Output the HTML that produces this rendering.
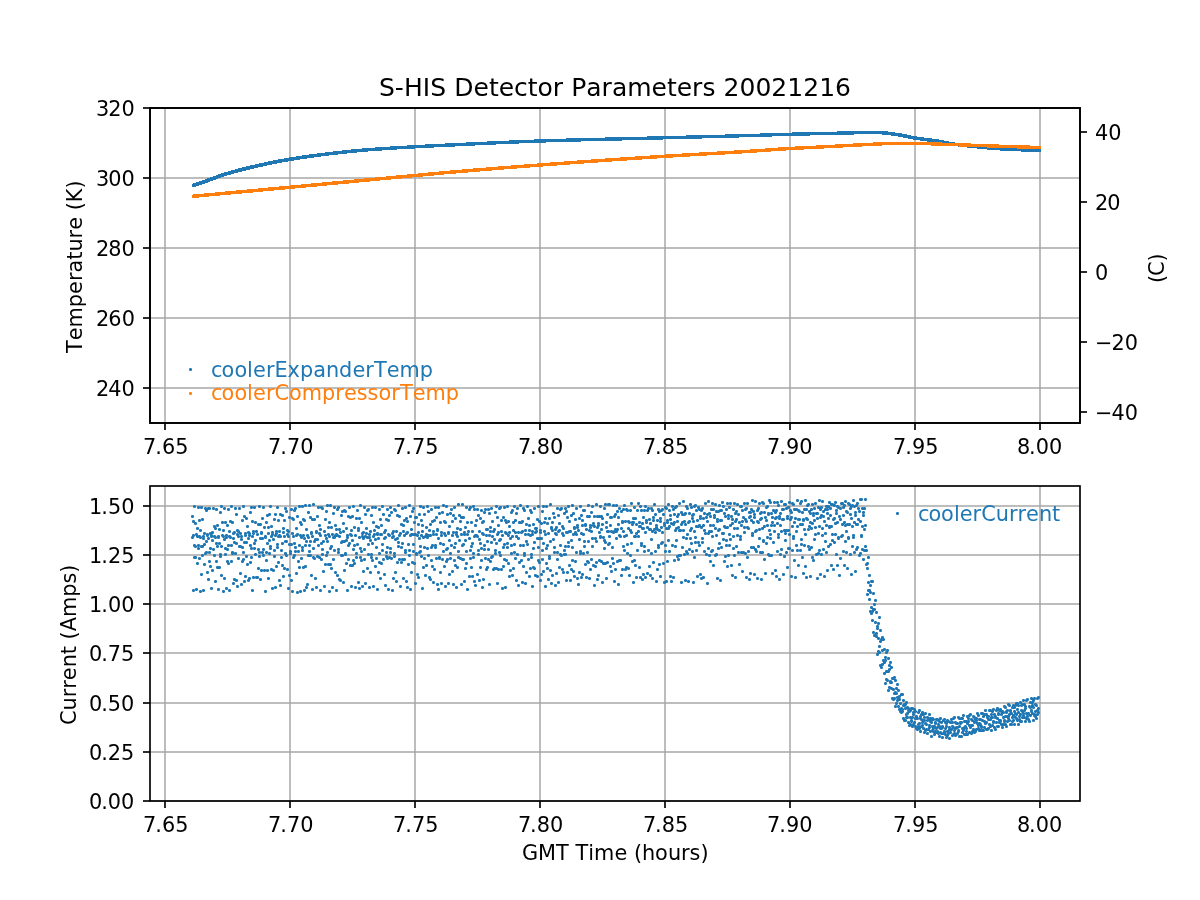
<!DOCTYPE html>
<html><head><meta charset="utf-8"><title>S-HIS Detector Parameters 20021216</title>
<style>html,body{margin:0;padding:0;background:#fff}svg{display:block}</style></head>
<body>
<svg xmlns="http://www.w3.org/2000/svg" width="1200" height="900" viewBox="0 0 1200 900" font-family='"DejaVu Sans", "Liberation Sans", sans-serif' font-size="20.833px">
<rect width="1200" height="900" fill="#ffffff"/>
<g stroke="#b0b0b0" stroke-width="1.667" fill="none">
<line x1="165" y1="108" x2="165" y2="423"/>
<line x1="290" y1="108" x2="290" y2="423"/>
<line x1="415" y1="108" x2="415" y2="423"/>
<line x1="540" y1="108" x2="540" y2="423"/>
<line x1="665" y1="108" x2="665" y2="423"/>
<line x1="790" y1="108" x2="790" y2="423"/>
<line x1="915" y1="108" x2="915" y2="423"/>
<line x1="1040" y1="108" x2="1040" y2="423"/>
</g>
<g stroke="#a7a7a7" stroke-width="1.667" fill="none">
<line x1="150" y1="388" x2="1080" y2="388"/>
<line x1="150" y1="318" x2="1080" y2="318"/>
<line x1="150" y1="248" x2="1080" y2="248"/>
<line x1="150" y1="178" x2="1080" y2="178"/>
<line x1="150" y1="108" x2="1080" y2="108"/>
</g>
<path d="M192 185.5H195M193 184.5H198M196 183.5H201M199 182.5H204M202 181.5H207M205 180.5H209M207 179.5H212M210 178.5H215M213 177.5H218M216 176.5H220M218 175.5H223M221 174.5H226M224 173.5H230M228 172.5H233M231 171.5H237M235 170.5H240M238 169.5H244M242 168.5H248M246 167.5H252M250 166.5H257M255 165.5H261M259 164.5H266M264 163.5H270M268 162.5H275M273 161.5H280M278 160.5H286M284 159.5H291M289 158.5H298M296 157.5H304M302 156.5H311M309 155.5H319M317 154.5H327M325 153.5H335M333 152.5H344M342 151.5H353M351 150.5H364M362 149.5H377M375 148.5H392M390 147.5H409M407 146.5H427M425 145.5H447M445 144.5H468M466 143.5H489M487 142.5H511M509 141.5H536M534 140.5H568M566 139.5H607M605 138.5H649M647 137.5H688M686 136.5H727M725 135.5H762M760 134.5H794M792 133.5H839M837 132.5H888M886 133.5H895M893 134.5H902M900 135.5H907M905 136.5H911M909 137.5H917M915 138.5H924M922 139.5H932M930 140.5H939M937 141.5H944M942 142.5H949M947 143.5H955M953 144.5H963M961 145.5H973M971 146.5H983M981 147.5H993M991 148.5H1008M1006 149.5H1029M1027 150.5H1041M192 185.5H196M194 184.5H199M197 183.5H202M200 182.5H205M203 181.5H208M206 180.5H210M208 179.5H213M211 178.5H216M214 177.5H218M216 176.5H221M219 175.5H224M222 174.5H227M225 173.5H231M229 172.5H234M232 171.5H238M236 170.5H242M240 169.5H246M244 168.5H250M248 167.5H254M252 166.5H258M256 165.5H263M261 164.5H267M265 163.5H272M270 162.5H277M275 161.5H282M280 160.5H288M286 159.5H294M292 158.5H300M298 157.5H307M305 156.5H314M312 155.5H321M319 154.5H329M327 153.5H338M336 152.5H347M345 151.5H357M355 150.5H368M366 149.5H382M380 148.5H397M395 147.5H415M413 146.5H434M432 145.5H455M453 144.5H475M473 143.5H496M494 142.5H519M517 141.5H546M544 140.5H581M579 139.5H622M620 138.5H663M661 137.5H702M700 136.5H739M737 135.5H772M770 134.5H810M808 133.5H854M852 132.5H884M882 133.5H893M891 134.5H900M898 135.5H905M903 136.5H910M908 137.5H915M913 138.5H922M920 139.5H929M927 140.5H937M935 141.5H942M940 142.5H948M946 143.5H953M951 144.5H960M958 145.5H969M967 146.5H979M977 147.5H989M987 148.5H1002M1000 149.5H1023M1021 150.5H1041" fill="none" stroke="#1f77b4" stroke-width="3"/>
<path d="M192 196.5H195M193 195.5H206M204 194.5H217M215 193.5H227M225 192.5H238M236 191.5H249M247 190.5H260M258 189.5H270M268 188.5H281M279 187.5H292M290 186.5H303M301 185.5H313M311 184.5H324M322 183.5H334M332 182.5H345M343 181.5H356M354 180.5H366M364 179.5H377M375 178.5H388M386 177.5H398M396 176.5H409M407 175.5H420M418 174.5H430M428 173.5H441M439 172.5H452M450 171.5H464M462 170.5H475M473 169.5H488M486 168.5H500M498 167.5H513M511 166.5H526M524 165.5H539M537 164.5H552M550 163.5H566M564 162.5H579M577 161.5H593M591 160.5H607M605 159.5H622M620 158.5H637M635 157.5H652M650 156.5H667M665 155.5H684M682 154.5H701M699 153.5H719M717 152.5H736M734 151.5H752M750 150.5H767M765 149.5H780M778 148.5H797M795 147.5H818M816 146.5H837M835 145.5H855M853 144.5H875M873 143.5H942M940 144.5H971M969 145.5H999M997 146.5H1030M1028 147.5H1041M192 196.5H199M197 195.5H209M207 194.5H220M218 193.5H231M229 192.5H242M240 191.5H253M251 190.5H263M261 189.5H274M272 188.5H285M283 187.5H295M293 186.5H306M304 185.5H317M315 184.5H327M325 183.5H338M336 182.5H349M347 181.5H359M357 180.5H370M368 179.5H380M378 178.5H391M389 177.5H402M400 176.5H412M410 175.5H423M421 174.5H434M432 173.5H444M442 172.5H456M454 171.5H468M466 170.5H480M478 169.5H492M490 168.5H504M502 167.5H517M515 166.5H530M528 165.5H543M541 164.5H557M555 163.5H570M568 162.5H584M582 161.5H598M596 160.5H612M610 159.5H627M625 158.5H642M640 157.5H657M655 156.5H673M671 155.5H690M688 154.5H707M705 153.5H725M723 152.5H742M740 151.5H757M755 150.5H771M769 149.5H786M784 148.5H804M802 147.5H824M822 146.5H843M841 145.5H862M860 144.5H882M880 143.5H933M931 144.5H961M959 145.5H989M987 146.5H1019M1017 147.5H1041" fill="none" stroke="#ff7f0e" stroke-width="3"/>
<rect x="150" y="108" width="930" height="315" fill="none" stroke="#000" stroke-width="1.667" stroke-linejoin="miter"/>
<rect x="150" y="108" width="930" height="315" fill="none" stroke="#000" stroke-width="1.667" stroke-linejoin="miter"/>
<g stroke="#000" stroke-width="1.667">
<line x1="165" y1="423" x2="165" y2="430"/>
<line x1="290" y1="423" x2="290" y2="430"/>
<line x1="415" y1="423" x2="415" y2="430"/>
<line x1="540" y1="423" x2="540" y2="430"/>
<line x1="665" y1="423" x2="665" y2="430"/>
<line x1="790" y1="423" x2="790" y2="430"/>
<line x1="915" y1="423" x2="915" y2="430"/>
<line x1="1040" y1="423" x2="1040" y2="430"/>
</g>
<text x="143.00 155.25 161.88 175.25" y="454" fill="#000">7.65</text>
<text x="268.06 280.31 286.94 300.19" y="454" fill="#000">7.70</text>
<text x="393.06 405.31 411.94 425.19" y="454" fill="#000">7.75</text>
<text x="517.88 530.12 536.75 549.88" y="454" fill="#000">7.80</text>
<text x="642.88 655.12 661.75 674.88" y="454" fill="#000">7.85</text>
<text x="767.00 779.25 785.88 799.25" y="454" fill="#000">7.90</text>
<text x="893.00 905.25 911.88 925.25" y="454" fill="#000">7.95</text>
<text x="1017.00 1029.12 1035.75 1049.00" y="454" fill="#000">8.00</text>
<g stroke="#000" stroke-width="1.667">
<line x1="143" y1="388" x2="150" y2="388"/>
<line x1="143" y1="318" x2="150" y2="318"/>
<line x1="143" y1="248" x2="150" y2="248"/>
<line x1="143" y1="178" x2="150" y2="178"/>
<line x1="143" y1="108" x2="150" y2="108"/>
</g>
<text x="95.92 108.17 121.42" y="396" fill="#000">240</text>
<text x="96.04 108.29 121.67" y="326" fill="#000">260</text>
<text x="96.04 108.29 121.42" y="256" fill="#000">280</text>
<text x="96.04 108.29 121.54" y="186" fill="#000">300</text>
<text x="96.04 108.29 121.54" y="116" fill="#000">320</text>
<g stroke="#000" stroke-width="1.667">
<line x1="1080" y1="412" x2="1087" y2="412"/>
<line x1="1080" y1="342" x2="1087" y2="342"/>
<line x1="1080" y1="272" x2="1087" y2="272"/>
<line x1="1080" y1="202" x2="1087" y2="202"/>
<line x1="1080" y1="132" x2="1087" y2="132"/>
</g>
<text x="1095.02 1111.52 1124.77" y="420" fill="#000">−40</text>
<text x="1095.02 1111.52 1124.77" y="350" fill="#000">−20</text>
<text x="1094.96" y="280" fill="#000">0</text>
<text x="1095.08 1107.33" y="210" fill="#000">20</text>
<text x="1095.08 1108.33" y="140" fill="#000">40</text>
<text x="378.95 394.82 403.95 422.82 430.32 446.20 454.20 473.57 488.95 498.70 514.07 527.82 537.57 552.82 563.20 571.20 586.30 601.55 611.93 627.18 651.55 666.93 676.68 692.05 702.43 715.55 723.55 739.55 755.43 771.30 787.30 803.18 819.18 835.05" y="96" fill="#000" font-size="25.000px">S-HIS Detector Parameters 20021216</text>
<text transform="translate(81.70 266.75) rotate(-90)" x="-86.35 -73.52 -60.65 -40.40 -27.15 -14.27 -5.65 7.10 15.23 28.35 36.98 49.85 56.48 64.60 78.23" y="0" fill="#000">Temperature (K)</text>
<text transform="translate(1163.70 268.50) rotate(-90)" x="-14.62 -7.50 7.00" y="0" fill="#000">(C)</text>
<path d="M190.3 369.3h.4v.4h-.4z" fill="#1f77b4" stroke="#1f77b4" stroke-width="2.6" stroke-linejoin="round"/>
<path d="M190.3 393.3h.4v.4h-.4z" fill="#ff7f0e" stroke="#ff7f0e" stroke-width="2.6" stroke-linejoin="round"/>
<text x="211.12 221.62 234.38 247.12 253.00 265.88 274.50 287.62 300.00 313.25 326.00 339.12 352.38 365.25 373.88 386.70 399.58 419.83" y="377" fill="#1f77b4">coolerExpanderTemp</text>
<text x="211.12 221.62 234.38 247.12 253.00 265.88 274.50 289.00 301.75 322.00 335.25 343.88 356.75 367.62 378.50 391.25 399.88 412.70 425.58 445.83" y="400" fill="#ff7f0e">coolerCompressorTemp</text>
<g stroke="#b0b0b0" stroke-width="1.667" fill="none">
<line x1="165" y1="486" x2="165" y2="801"/>
<line x1="290" y1="486" x2="290" y2="801"/>
<line x1="415" y1="486" x2="415" y2="801"/>
<line x1="540" y1="486" x2="540" y2="801"/>
<line x1="665" y1="486" x2="665" y2="801"/>
<line x1="790" y1="486" x2="790" y2="801"/>
<line x1="915" y1="486" x2="915" y2="801"/>
<line x1="1040" y1="486" x2="1040" y2="801"/>
</g>
<g stroke="#a7a7a7" stroke-width="1.667" fill="none">
<line x1="150" y1="801" x2="1080" y2="801"/>
<line x1="150" y1="752" x2="1080" y2="752"/>
<line x1="150" y1="703" x2="1080" y2="703"/>
<line x1="150" y1="653" x2="1080" y2="653"/>
<line x1="150" y1="604" x2="1080" y2="604"/>
<line x1="150" y1="555" x2="1080" y2="555"/>
<line x1="150" y1="506" x2="1080" y2="506"/>
</g>
<path d="M192.3 516.3h.4v.4h-.4zM192.3 537.3h.4v.4h-.4zM193.3 590.3h.4v.4h-.4zM193.3 535.3h.4v.4h-.4zM193.3 521.3h.4v.4h-.4zM194.3 557.3h.4v.4h-.4zM194.3 545.3h.4v.4h-.4zM194.3 506.3h.4v.4h-.4zM195.3 546.3h.4v.4h-.4zM195.3 557.3h.4v.4h-.4zM195.3 523.3h.4v.4h-.4zM196.3 534.3h.4v.4h-.4zM196.3 589.3h.4v.4h-.4zM197.3 536.3h.4v.4h-.4zM197.3 528.3h.4v.4h-.4zM197.3 563.3h.4v.4h-.4zM198.3 545.3h.4v.4h-.4zM198.3 507.3h.4v.4h-.4zM198.3 548.3h.4v.4h-.4zM199.3 558.3h.4v.4h-.4zM199.3 520.3h.4v.4h-.4zM199.3 536.3h.4v.4h-.4zM200.3 591.3h.4v.4h-.4zM200.3 537.3h.4v.4h-.4zM200.3 530.3h.4v.4h-.4zM201.3 574.3h.4v.4h-.4zM201.3 546.3h.4v.4h-.4zM201.3 507.3h.4v.4h-.4zM202.3 546.3h.4v.4h-.4zM202.3 555.3h.4v.4h-.4zM202.3 519.3h.4v.4h-.4zM203.3 538.3h.4v.4h-.4zM203.3 590.3h.4v.4h-.4zM203.3 536.3h.4v.4h-.4zM204.3 533.3h.4v.4h-.4zM204.3 564.3h.4v.4h-.4zM204.3 544.3h.4v.4h-.4zM205.3 508.3h.4v.4h-.4zM205.3 553.3h.4v.4h-.4zM206.3 552.3h.4v.4h-.4zM206.3 510.3h.4v.4h-.4zM206.3 541.3h.4v.4h-.4zM207.3 572.3h.4v.4h-.4zM207.3 535.3h.4v.4h-.4zM207.3 534.3h.4v.4h-.4zM208.3 579.3h.4v.4h-.4zM208.3 538.3h.4v.4h-.4zM208.3 508.3h.4v.4h-.4zM209.3 561.3h.4v.4h-.4zM209.3 552.3h.4v.4h-.4zM209.3 508.3h.4v.4h-.4zM210.3 548.3h.4v.4h-.4zM210.3 566.3h.4v.4h-.4zM210.3 533.3h.4v.4h-.4zM211.3 535.3h.4v.4h-.4zM211.3 588.3h.4v.4h-.4zM211.3 536.3h.4v.4h-.4zM212.3 532.3h.4v.4h-.4zM212.3 570.3h.4v.4h-.4zM212.3 540.3h.4v.4h-.4zM213.3 508.3h.4v.4h-.4zM213.3 549.3h.4v.4h-.4zM214.3 555.3h.4v.4h-.4zM214.3 526.3h.4v.4h-.4zM214.3 536.3h.4v.4h-.4zM215.3 581.3h.4v.4h-.4zM215.3 537.3h.4v.4h-.4zM215.3 528.3h.4v.4h-.4zM216.3 561.3h.4v.4h-.4zM216.3 543.3h.4v.4h-.4zM216.3 509.3h.4v.4h-.4zM217.3 546.3h.4v.4h-.4zM217.3 567.3h.4v.4h-.4zM217.3 525.3h.4v.4h-.4zM218.3 537.3h.4v.4h-.4zM218.3 589.3h.4v.4h-.4zM218.3 536.3h.4v.4h-.4zM219.3 529.3h.4v.4h-.4zM219.3 567.3h.4v.4h-.4zM219.3 543.3h.4v.4h-.4zM220.3 512.3h.4v.4h-.4zM220.3 556.3h.4v.4h-.4zM220.3 554.3h.4v.4h-.4zM221.3 506.3h.4v.4h-.4zM221.3 546.3h.4v.4h-.4zM221.3 575.3h.4v.4h-.4zM222.3 522.3h.4v.4h-.4zM222.3 535.3h.4v.4h-.4zM223.3 591.3h.4v.4h-.4zM223.3 536.3h.4v.4h-.4zM223.3 530.3h.4v.4h-.4zM224.3 578.3h.4v.4h-.4zM224.3 539.3h.4v.4h-.4zM224.3 508.3h.4v.4h-.4zM225.3 548.3h.4v.4h-.4zM225.3 554.3h.4v.4h-.4zM225.3 522.3h.4v.4h-.4zM226.3 535.3h.4v.4h-.4zM226.3 588.3h.4v.4h-.4zM226.3 537.3h.4v.4h-.4zM227.3 525.3h.4v.4h-.4zM227.3 561.3h.4v.4h-.4zM227.3 549.3h.4v.4h-.4zM228.3 509.3h.4v.4h-.4zM228.3 545.3h.4v.4h-.4zM228.3 563.3h.4v.4h-.4zM229.3 531.3h.4v.4h-.4zM229.3 536.3h.4v.4h-.4zM229.3 590.3h.4v.4h-.4zM230.3 537.3h.4v.4h-.4zM230.3 521.3h.4v.4h-.4zM231.3 561.3h.4v.4h-.4zM231.3 545.3h.4v.4h-.4zM231.3 506.3h.4v.4h-.4zM232.3 552.3h.4v.4h-.4zM232.3 553.3h.4v.4h-.4zM232.3 522.3h.4v.4h-.4zM233.3 538.3h.4v.4h-.4zM233.3 583.3h.4v.4h-.4zM233.3 533.3h.4v.4h-.4zM234.3 532.3h.4v.4h-.4zM234.3 579.3h.4v.4h-.4zM234.3 542.3h.4v.4h-.4zM235.3 508.3h.4v.4h-.4zM235.3 553.3h.4v.4h-.4zM236.3 514.3h.4v.4h-.4zM236.3 543.3h.4v.4h-.4zM236.3 580.3h.4v.4h-.4zM237.3 530.3h.4v.4h-.4zM237.3 534.3h.4v.4h-.4zM237.3 586.3h.4v.4h-.4zM238.3 536.3h.4v.4h-.4zM238.3 531.3h.4v.4h-.4zM238.3 558.3h.4v.4h-.4zM239.3 546.3h.4v.4h-.4zM239.3 508.3h.4v.4h-.4zM240.3 546.3h.4v.4h-.4zM240.3 573.3h.4v.4h-.4zM240.3 533.3h.4v.4h-.4zM241.3 536.3h.4v.4h-.4zM241.3 584.3h.4v.4h-.4zM241.3 539.3h.4v.4h-.4zM242.3 520.3h.4v.4h-.4zM242.3 561.3h.4v.4h-.4zM242.3 547.3h.4v.4h-.4zM243.3 506.3h.4v.4h-.4zM243.3 552.3h.4v.4h-.4zM243.3 559.3h.4v.4h-.4zM244.3 516.3h.4v.4h-.4zM244.3 542.3h.4v.4h-.4zM244.3 581.3h.4v.4h-.4zM245.3 533.3h.4v.4h-.4zM245.3 535.3h.4v.4h-.4zM245.3 576.3h.4v.4h-.4zM246.3 542.3h.4v.4h-.4zM246.3 518.3h.4v.4h-.4zM246.3 556.3h.4v.4h-.4zM247.3 564.3h.4v.4h-.4zM247.3 526.3h.4v.4h-.4zM248.3 538.3h.4v.4h-.4zM248.3 580.3h.4v.4h-.4zM248.3 532.3h.4v.4h-.4zM249.3 533.3h.4v.4h-.4zM249.3 578.3h.4v.4h-.4zM249.3 535.3h.4v.4h-.4zM250.3 512.3h.4v.4h-.4zM250.3 562.3h.4v.4h-.4zM250.3 545.3h.4v.4h-.4zM251.3 507.3h.4v.4h-.4zM251.3 548.3h.4v.4h-.4zM251.3 557.3h.4v.4h-.4zM252.3 521.3h.4v.4h-.4zM252.3 536.3h.4v.4h-.4zM252.3 590.3h.4v.4h-.4zM253.3 533.3h.4v.4h-.4zM253.3 531.3h.4v.4h-.4zM253.3 577.3h.4v.4h-.4zM254.3 543.3h.4v.4h-.4zM254.3 507.3h.4v.4h-.4zM254.3 548.3h.4v.4h-.4zM255.3 554.3h.4v.4h-.4zM255.3 522.3h.4v.4h-.4zM255.3 540.3h.4v.4h-.4zM256.3 577.3h.4v.4h-.4zM256.3 531.3h.4v.4h-.4zM257.3 534.3h.4v.4h-.4zM257.3 577.3h.4v.4h-.4zM258.3 524.3h.4v.4h-.4zM258.3 568.3h.4v.4h-.4zM258.3 549.3h.4v.4h-.4zM259.3 506.3h.4v.4h-.4zM259.3 552.3h.4v.4h-.4zM259.3 556.3h.4v.4h-.4zM260.3 524.3h.4v.4h-.4zM260.3 538.3h.4v.4h-.4zM260.3 579.3h.4v.4h-.4zM261.3 533.3h.4v.4h-.4zM261.3 532.3h.4v.4h-.4zM261.3 570.3h.4v.4h-.4zM262.3 538.3h.4v.4h-.4zM262.3 518.3h.4v.4h-.4zM262.3 552.3h.4v.4h-.4zM263.3 555.3h.4v.4h-.4zM263.3 507.3h.4v.4h-.4zM263.3 549.3h.4v.4h-.4zM264.3 570.3h.4v.4h-.4zM264.3 527.3h.4v.4h-.4zM265.3 537.3h.4v.4h-.4zM265.3 591.3h.4v.4h-.4zM265.3 536.3h.4v.4h-.4zM266.3 522.3h.4v.4h-.4zM266.3 560.3h.4v.4h-.4zM266.3 552.3h.4v.4h-.4zM267.3 515.3h.4v.4h-.4zM267.3 543.3h.4v.4h-.4zM267.3 570.3h.4v.4h-.4zM268.3 527.3h.4v.4h-.4zM268.3 533.3h.4v.4h-.4zM268.3 578.3h.4v.4h-.4zM269.3 540.3h.4v.4h-.4zM269.3 514.3h.4v.4h-.4zM269.3 553.3h.4v.4h-.4zM270.3 548.3h.4v.4h-.4zM270.3 506.3h.4v.4h-.4zM270.3 546.3h.4v.4h-.4zM271.3 569.3h.4v.4h-.4zM271.3 526.3h.4v.4h-.4zM271.3 536.3h.4v.4h-.4zM272.3 588.3h.4v.4h-.4zM272.3 534.3h.4v.4h-.4zM272.3 532.3h.4v.4h-.4zM273.3 570.3h.4v.4h-.4zM273.3 539.3h.4v.4h-.4zM274.3 519.3h.4v.4h-.4zM274.3 550.3h.4v.4h-.4zM274.3 556.3h.4v.4h-.4zM275.3 514.3h.4v.4h-.4zM275.3 535.3h.4v.4h-.4zM275.3 587.3h.4v.4h-.4zM276.3 533.3h.4v.4h-.4zM276.3 531.3h.4v.4h-.4zM276.3 566.3h.4v.4h-.4zM277.3 544.3h.4v.4h-.4zM277.3 507.3h.4v.4h-.4zM277.3 547.3h.4v.4h-.4zM278.3 562.3h.4v.4h-.4zM278.3 520.3h.4v.4h-.4zM278.3 536.3h.4v.4h-.4zM279.3 580.3h.4v.4h-.4zM279.3 535.3h.4v.4h-.4zM279.3 531.3h.4v.4h-.4zM280.3 585.3h.4v.4h-.4zM280.3 536.3h.4v.4h-.4zM280.3 514.3h.4v.4h-.4zM281.3 557.3h.4v.4h-.4zM281.3 550.3h.4v.4h-.4zM282.3 515.3h.4v.4h-.4zM282.3 543.3h.4v.4h-.4zM282.3 565.3h.4v.4h-.4zM283.3 528.3h.4v.4h-.4zM283.3 532.3h.4v.4h-.4zM283.3 576.3h.4v.4h-.4zM284.3 536.3h.4v.4h-.4zM284.3 520.3h.4v.4h-.4zM284.3 568.3h.4v.4h-.4zM285.3 541.3h.4v.4h-.4zM285.3 508.3h.4v.4h-.4zM285.3 553.3h.4v.4h-.4zM286.3 555.3h.4v.4h-.4zM286.3 511.3h.4v.4h-.4zM286.3 541.3h.4v.4h-.4zM287.3 569.3h.4v.4h-.4zM287.3 530.3h.4v.4h-.4zM287.3 534.3h.4v.4h-.4zM288.3 588.3h.4v.4h-.4zM288.3 536.3h.4v.4h-.4zM288.3 531.3h.4v.4h-.4zM289.3 575.3h.4v.4h-.4zM289.3 544.3h.4v.4h-.4zM289.3 517.3h.4v.4h-.4zM290.3 551.3h.4v.4h-.4zM290.3 553.3h.4v.4h-.4zM291.3 509.3h.4v.4h-.4zM291.3 544.3h.4v.4h-.4zM291.3 580.3h.4v.4h-.4zM292.3 518.3h.4v.4h-.4zM292.3 533.3h.4v.4h-.4zM292.3 591.3h.4v.4h-.4zM293.3 536.3h.4v.4h-.4zM293.3 519.3h.4v.4h-.4zM293.3 557.3h.4v.4h-.4zM294.3 543.3h.4v.4h-.4zM294.3 510.3h.4v.4h-.4zM294.3 555.3h.4v.4h-.4zM295.3 551.3h.4v.4h-.4zM295.3 508.3h.4v.4h-.4zM295.3 547.3h.4v.4h-.4zM296.3 573.3h.4v.4h-.4zM296.3 528.3h.4v.4h-.4zM296.3 535.3h.4v.4h-.4zM297.3 592.3h.4v.4h-.4zM297.3 534.3h.4v.4h-.4zM297.3 516.3h.4v.4h-.4zM298.3 561.3h.4v.4h-.4zM298.3 551.3h.4v.4h-.4zM299.3 506.3h.4v.4h-.4zM299.3 545.3h.4v.4h-.4zM299.3 567.3h.4v.4h-.4zM300.3 522.3h.4v.4h-.4zM300.3 535.3h.4v.4h-.4zM300.3 591.3h.4v.4h-.4zM301.3 537.3h.4v.4h-.4zM301.3 524.3h.4v.4h-.4zM301.3 558.3h.4v.4h-.4zM302.3 550.3h.4v.4h-.4zM302.3 506.3h.4v.4h-.4zM302.3 547.3h.4v.4h-.4zM303.3 567.3h.4v.4h-.4zM303.3 519.3h.4v.4h-.4zM303.3 535.3h.4v.4h-.4zM304.3 590.3h.4v.4h-.4zM304.3 538.3h.4v.4h-.4zM304.3 520.3h.4v.4h-.4zM305.3 566.3h.4v.4h-.4zM305.3 545.3h.4v.4h-.4zM305.3 505.3h.4v.4h-.4zM306.3 541.3h.4v.4h-.4zM306.3 587.3h.4v.4h-.4zM306.3 529.3h.4v.4h-.4zM307.3 535.3h.4v.4h-.4zM307.3 584.3h.4v.4h-.4zM308.3 537.3h.4v.4h-.4zM308.3 512.3h.4v.4h-.4zM308.3 555.3h.4v.4h-.4zM309.3 545.3h.4v.4h-.4zM309.3 505.3h.4v.4h-.4zM309.3 551.3h.4v.4h-.4zM310.3 555.3h.4v.4h-.4zM310.3 517.3h.4v.4h-.4zM310.3 541.3h.4v.4h-.4zM311.3 575.3h.4v.4h-.4zM311.3 532.3h.4v.4h-.4zM311.3 533.3h.4v.4h-.4zM312.3 589.3h.4v.4h-.4zM312.3 536.3h.4v.4h-.4zM312.3 519.3h.4v.4h-.4zM313.3 557.3h.4v.4h-.4zM313.3 548.3h.4v.4h-.4zM313.3 504.3h.4v.4h-.4zM314.3 541.3h.4v.4h-.4zM314.3 558.3h.4v.4h-.4zM314.3 519.3h.4v.4h-.4zM315.3 539.3h.4v.4h-.4zM315.3 578.3h.4v.4h-.4zM316.3 532.3h.4v.4h-.4zM316.3 531.3h.4v.4h-.4zM316.3 587.3h.4v.4h-.4zM317.3 539.3h.4v.4h-.4zM317.3 516.3h.4v.4h-.4zM317.3 556.3h.4v.4h-.4zM318.3 545.3h.4v.4h-.4zM318.3 507.3h.4v.4h-.4zM319.3 557.3h.4v.4h-.4zM319.3 525.3h.4v.4h-.4zM319.3 533.3h.4v.4h-.4zM320.3 590.3h.4v.4h-.4zM320.3 535.3h.4v.4h-.4zM320.3 529.3h.4v.4h-.4zM321.3 559.3h.4v.4h-.4zM321.3 543.3h.4v.4h-.4zM321.3 507.3h.4v.4h-.4zM322.3 549.3h.4v.4h-.4zM322.3 554.3h.4v.4h-.4zM322.3 508.3h.4v.4h-.4zM323.3 541.3h.4v.4h-.4zM323.3 571.3h.4v.4h-.4zM324.3 531.3h.4v.4h-.4zM324.3 586.3h.4v.4h-.4zM325.3 535.3h.4v.4h-.4zM325.3 519.3h.4v.4h-.4zM325.3 564.3h.4v.4h-.4zM326.3 538.3h.4v.4h-.4zM326.3 511.3h.4v.4h-.4zM326.3 555.3h.4v.4h-.4zM327.3 552.3h.4v.4h-.4zM327.3 505.3h.4v.4h-.4zM327.3 541.3h.4v.4h-.4zM328.3 564.3h.4v.4h-.4zM328.3 527.3h.4v.4h-.4zM328.3 534.3h.4v.4h-.4zM329.3 591.3h.4v.4h-.4zM329.3 536.3h.4v.4h-.4zM329.3 522.3h.4v.4h-.4zM330.3 564.3h.4v.4h-.4zM330.3 548.3h.4v.4h-.4zM330.3 505.3h.4v.4h-.4zM331.3 546.3h.4v.4h-.4zM331.3 568.3h.4v.4h-.4zM331.3 527.3h.4v.4h-.4zM332.3 534.3h.4v.4h-.4zM332.3 587.3h.4v.4h-.4zM333.3 537.3h.4v.4h-.4zM333.3 513.3h.4v.4h-.4zM333.3 559.3h.4v.4h-.4zM334.3 550.3h.4v.4h-.4zM334.3 507.3h.4v.4h-.4zM334.3 537.3h.4v.4h-.4zM335.3 572.3h.4v.4h-.4zM335.3 525.3h.4v.4h-.4zM335.3 535.3h.4v.4h-.4zM336.3 590.3h.4v.4h-.4zM336.3 534.3h.4v.4h-.4zM336.3 529.3h.4v.4h-.4zM337.3 575.3h.4v.4h-.4zM337.3 535.3h.4v.4h-.4zM337.3 509.3h.4v.4h-.4zM338.3 552.3h.4v.4h-.4zM338.3 549.3h.4v.4h-.4zM338.3 507.3h.4v.4h-.4zM339.3 536.3h.4v.4h-.4zM339.3 579.3h.4v.4h-.4zM339.3 529.3h.4v.4h-.4zM340.3 532.3h.4v.4h-.4zM340.3 580.3h.4v.4h-.4zM341.3 542.3h.4v.4h-.4zM341.3 515.3h.4v.4h-.4zM341.3 555.3h.4v.4h-.4zM342.3 555.3h.4v.4h-.4zM342.3 511.3h.4v.4h-.4zM342.3 541.3h.4v.4h-.4zM343.3 582.3h.4v.4h-.4zM343.3 531.3h.4v.4h-.4zM343.3 523.3h.4v.4h-.4zM344.3 570.3h.4v.4h-.4zM344.3 541.3h.4v.4h-.4zM344.3 510.3h.4v.4h-.4zM345.3 553.3h.4v.4h-.4zM345.3 554.3h.4v.4h-.4zM345.3 511.3h.4v.4h-.4zM346.3 540.3h.4v.4h-.4zM346.3 563.3h.4v.4h-.4zM346.3 528.3h.4v.4h-.4zM347.3 535.3h.4v.4h-.4zM347.3 590.3h.4v.4h-.4zM347.3 537.3h.4v.4h-.4zM348.3 516.3h.4v.4h-.4zM348.3 559.3h.4v.4h-.4zM348.3 545.3h.4v.4h-.4zM349.3 507.3h.4v.4h-.4zM349.3 543.3h.4v.4h-.4zM350.3 565.3h.4v.4h-.4zM350.3 517.3h.4v.4h-.4zM350.3 534.3h.4v.4h-.4zM351.3 586.3h.4v.4h-.4zM351.3 535.3h.4v.4h-.4zM351.3 530.3h.4v.4h-.4zM352.3 565.3h.4v.4h-.4zM352.3 540.3h.4v.4h-.4zM352.3 516.3h.4v.4h-.4zM353.3 560.3h.4v.4h-.4zM353.3 549.3h.4v.4h-.4zM353.3 506.3h.4v.4h-.4zM354.3 545.3h.4v.4h-.4zM354.3 563.3h.4v.4h-.4zM354.3 527.3h.4v.4h-.4zM355.3 535.3h.4v.4h-.4zM355.3 587.3h.4v.4h-.4zM356.3 518.3h.4v.4h-.4zM356.3 557.3h.4v.4h-.4zM356.3 553.3h.4v.4h-.4zM357.3 510.3h.4v.4h-.4zM357.3 544.3h.4v.4h-.4zM358.3 582.3h.4v.4h-.4zM358.3 528.3h.4v.4h-.4zM358.3 530.3h.4v.4h-.4zM359.3 588.3h.4v.4h-.4zM359.3 537.3h.4v.4h-.4zM359.3 518.3h.4v.4h-.4zM360.3 557.3h.4v.4h-.4zM360.3 548.3h.4v.4h-.4zM360.3 505.3h.4v.4h-.4zM361.3 551.3h.4v.4h-.4zM361.3 560.3h.4v.4h-.4zM361.3 522.3h.4v.4h-.4zM362.3 536.3h.4v.4h-.4zM362.3 586.3h.4v.4h-.4zM362.3 533.3h.4v.4h-.4zM363.3 532.3h.4v.4h-.4zM363.3 571.3h.4v.4h-.4zM363.3 538.3h.4v.4h-.4zM364.3 507.3h.4v.4h-.4zM364.3 549.3h.4v.4h-.4zM364.3 559.3h.4v.4h-.4zM365.3 514.3h.4v.4h-.4zM365.3 536.3h.4v.4h-.4zM365.3 583.3h.4v.4h-.4zM366.3 533.3h.4v.4h-.4zM366.3 528.3h.4v.4h-.4zM367.3 568.3h.4v.4h-.4zM367.3 537.3h.4v.4h-.4zM367.3 510.3h.4v.4h-.4zM368.3 544.3h.4v.4h-.4zM368.3 554.3h.4v.4h-.4zM368.3 509.3h.4v.4h-.4zM369.3 537.3h.4v.4h-.4zM369.3 587.3h.4v.4h-.4zM369.3 534.3h.4v.4h-.4zM370.3 531.3h.4v.4h-.4zM370.3 572.3h.4v.4h-.4zM370.3 540.3h.4v.4h-.4zM371.3 515.3h.4v.4h-.4zM371.3 557.3h.4v.4h-.4zM371.3 554.3h.4v.4h-.4zM372.3 507.3h.4v.4h-.4zM372.3 543.3h.4v.4h-.4zM372.3 560.3h.4v.4h-.4zM373.3 522.3h.4v.4h-.4zM373.3 536.3h.4v.4h-.4zM373.3 586.3h.4v.4h-.4zM374.3 534.3h.4v.4h-.4zM374.3 530.3h.4v.4h-.4zM375.3 566.3h.4v.4h-.4zM375.3 539.3h.4v.4h-.4zM375.3 507.3h.4v.4h-.4zM376.3 547.3h.4v.4h-.4zM376.3 558.3h.4v.4h-.4zM376.3 526.3h.4v.4h-.4zM377.3 534.3h.4v.4h-.4zM377.3 589.3h.4v.4h-.4zM377.3 533.3h.4v.4h-.4zM378.3 527.3h.4v.4h-.4zM378.3 572.3h.4v.4h-.4zM378.3 538.3h.4v.4h-.4zM379.3 509.3h.4v.4h-.4zM379.3 553.3h.4v.4h-.4zM379.3 562.3h.4v.4h-.4zM380.3 519.3h.4v.4h-.4zM380.3 534.3h.4v.4h-.4zM380.3 578.3h.4v.4h-.4zM381.3 534.3h.4v.4h-.4zM381.3 525.3h.4v.4h-.4zM381.3 563.3h.4v.4h-.4zM382.3 550.3h.4v.4h-.4zM382.3 506.3h.4v.4h-.4zM382.3 544.3h.4v.4h-.4zM383.3 559.3h.4v.4h-.4zM383.3 514.3h.4v.4h-.4zM384.3 538.3h.4v.4h-.4zM384.3 574.3h.4v.4h-.4zM384.3 532.3h.4v.4h-.4zM385.3 530.3h.4v.4h-.4zM385.3 585.3h.4v.4h-.4zM385.3 537.3h.4v.4h-.4zM386.3 519.3h.4v.4h-.4zM386.3 556.3h.4v.4h-.4zM386.3 552.3h.4v.4h-.4zM387.3 509.3h.4v.4h-.4zM387.3 547.3h.4v.4h-.4zM387.3 558.3h.4v.4h-.4zM388.3 520.3h.4v.4h-.4zM388.3 534.3h.4v.4h-.4zM388.3 589.3h.4v.4h-.4zM389.3 535.3h.4v.4h-.4zM389.3 515.3h.4v.4h-.4zM389.3 557.3h.4v.4h-.4zM390.3 548.3h.4v.4h-.4zM390.3 507.3h.4v.4h-.4zM390.3 552.3h.4v.4h-.4zM391.3 558.3h.4v.4h-.4zM391.3 512.3h.4v.4h-.4zM392.3 537.3h.4v.4h-.4zM392.3 590.3h.4v.4h-.4zM392.3 533.3h.4v.4h-.4zM393.3 531.3h.4v.4h-.4zM393.3 578.3h.4v.4h-.4zM393.3 536.3h.4v.4h-.4zM394.3 509.3h.4v.4h-.4zM394.3 556.3h.4v.4h-.4zM394.3 553.3h.4v.4h-.4zM395.3 510.3h.4v.4h-.4zM395.3 539.3h.4v.4h-.4zM395.3 572.3h.4v.4h-.4zM396.3 531.3h.4v.4h-.4zM396.3 581.3h.4v.4h-.4zM397.3 538.3h.4v.4h-.4zM397.3 515.3h.4v.4h-.4zM397.3 562.3h.4v.4h-.4zM398.3 546.3h.4v.4h-.4zM398.3 505.3h.4v.4h-.4zM398.3 542.3h.4v.4h-.4zM399.3 559.3h.4v.4h-.4zM399.3 516.3h.4v.4h-.4zM399.3 535.3h.4v.4h-.4zM400.3 586.3h.4v.4h-.4zM400.3 533.3h.4v.4h-.4zM401.3 524.3h.4v.4h-.4zM401.3 562.3h.4v.4h-.4zM401.3 547.3h.4v.4h-.4zM402.3 508.3h.4v.4h-.4zM402.3 543.3h.4v.4h-.4zM402.3 559.3h.4v.4h-.4zM403.3 525.3h.4v.4h-.4zM403.3 531.3h.4v.4h-.4zM403.3 578.3h.4v.4h-.4zM404.3 535.3h.4v.4h-.4zM404.3 520.3h.4v.4h-.4zM404.3 559.3h.4v.4h-.4zM405.3 550.3h.4v.4h-.4zM405.3 507.3h.4v.4h-.4zM405.3 552.3h.4v.4h-.4zM406.3 581.3h.4v.4h-.4zM406.3 518.3h.4v.4h-.4zM406.3 533.3h.4v.4h-.4zM407.3 587.3h.4v.4h-.4zM407.3 532.3h.4v.4h-.4zM407.3 521.3h.4v.4h-.4zM408.3 564.3h.4v.4h-.4zM408.3 544.3h.4v.4h-.4zM409.3 505.3h.4v.4h-.4zM409.3 550.3h.4v.4h-.4zM409.3 555.3h.4v.4h-.4zM410.3 516.3h.4v.4h-.4zM410.3 535.3h.4v.4h-.4zM410.3 589.3h.4v.4h-.4zM411.3 534.3h.4v.4h-.4zM411.3 529.3h.4v.4h-.4zM411.3 572.3h.4v.4h-.4zM412.3 534.3h.4v.4h-.4zM412.3 511.3h.4v.4h-.4zM412.3 562.3h.4v.4h-.4zM413.3 544.3h.4v.4h-.4zM413.3 508.3h.4v.4h-.4zM413.3 551.3h.4v.4h-.4zM414.3 563.3h.4v.4h-.4zM414.3 522.3h.4v.4h-.4zM414.3 534.3h.4v.4h-.4zM415.3 583.3h.4v.4h-.4zM415.3 534.3h.4v.4h-.4zM415.3 517.3h.4v.4h-.4zM416.3 553.3h.4v.4h-.4zM416.3 554.3h.4v.4h-.4zM416.3 517.3h.4v.4h-.4zM417.3 535.3h.4v.4h-.4zM417.3 574.3h.4v.4h-.4zM418.3 524.3h.4v.4h-.4zM418.3 532.3h.4v.4h-.4zM418.3 577.3h.4v.4h-.4zM419.3 538.3h.4v.4h-.4zM419.3 514.3h.4v.4h-.4zM419.3 552.3h.4v.4h-.4zM420.3 551.3h.4v.4h-.4zM420.3 506.3h.4v.4h-.4zM420.3 546.3h.4v.4h-.4zM421.3 556.3h.4v.4h-.4zM421.3 520.3h.4v.4h-.4zM421.3 535.3h.4v.4h-.4zM422.3 588.3h.4v.4h-.4zM422.3 531.3h.4v.4h-.4zM422.3 525.3h.4v.4h-.4zM423.3 567.3h.4v.4h-.4zM423.3 537.3h.4v.4h-.4zM423.3 507.3h.4v.4h-.4zM424.3 547.3h.4v.4h-.4zM424.3 558.3h.4v.4h-.4zM424.3 514.3h.4v.4h-.4zM425.3 536.3h.4v.4h-.4zM425.3 575.3h.4v.4h-.4zM426.3 534.3h.4v.4h-.4zM426.3 527.3h.4v.4h-.4zM426.3 565.3h.4v.4h-.4zM427.3 537.3h.4v.4h-.4zM427.3 506.3h.4v.4h-.4zM427.3 548.3h.4v.4h-.4zM428.3 555.3h.4v.4h-.4zM428.3 511.3h.4v.4h-.4zM428.3 535.3h.4v.4h-.4zM429.3 577.3h.4v.4h-.4zM429.3 530.3h.4v.4h-.4zM430.3 579.3h.4v.4h-.4zM430.3 535.3h.4v.4h-.4zM430.3 524.3h.4v.4h-.4zM431.3 560.3h.4v.4h-.4zM431.3 547.3h.4v.4h-.4zM431.3 509.3h.4v.4h-.4zM432.3 545.3h.4v.4h-.4zM432.3 566.3h.4v.4h-.4zM432.3 521.3h.4v.4h-.4zM433.3 534.3h.4v.4h-.4zM433.3 582.3h.4v.4h-.4zM433.3 531.3h.4v.4h-.4zM434.3 520.3h.4v.4h-.4zM434.3 569.3h.4v.4h-.4zM435.3 547.3h.4v.4h-.4zM435.3 507.3h.4v.4h-.4zM435.3 545.3h.4v.4h-.4zM436.3 558.3h.4v.4h-.4zM436.3 517.3h.4v.4h-.4zM436.3 534.3h.4v.4h-.4zM437.3 584.3h.4v.4h-.4zM437.3 529.3h.4v.4h-.4zM437.3 530.3h.4v.4h-.4zM438.3 589.3h.4v.4h-.4zM438.3 538.3h.4v.4h-.4zM438.3 507.3h.4v.4h-.4zM439.3 558.3h.4v.4h-.4zM439.3 557.3h.4v.4h-.4zM439.3 513.3h.4v.4h-.4zM440.3 543.3h.4v.4h-.4zM440.3 572.3h.4v.4h-.4zM440.3 522.3h.4v.4h-.4zM441.3 532.3h.4v.4h-.4zM441.3 583.3h.4v.4h-.4zM441.3 535.3h.4v.4h-.4zM442.3 512.3h.4v.4h-.4zM442.3 559.3h.4v.4h-.4zM443.3 551.3h.4v.4h-.4zM443.3 505.3h.4v.4h-.4zM443.3 544.3h.4v.4h-.4zM444.3 566.3h.4v.4h-.4zM444.3 521.3h.4v.4h-.4zM444.3 533.3h.4v.4h-.4zM445.3 586.3h.4v.4h-.4zM445.3 535.3h.4v.4h-.4zM445.3 522.3h.4v.4h-.4zM446.3 561.3h.4v.4h-.4zM446.3 549.3h.4v.4h-.4zM446.3 506.3h.4v.4h-.4zM447.3 548.3h.4v.4h-.4zM447.3 559.3h.4v.4h-.4zM447.3 514.3h.4v.4h-.4zM448.3 533.3h.4v.4h-.4zM448.3 583.3h.4v.4h-.4zM448.3 532.3h.4v.4h-.4zM449.3 526.3h.4v.4h-.4zM449.3 574.3h.4v.4h-.4zM449.3 540.3h.4v.4h-.4zM450.3 513.3h.4v.4h-.4zM450.3 558.3h.4v.4h-.4zM450.3 553.3h.4v.4h-.4zM451.3 509.3h.4v.4h-.4zM451.3 545.3h.4v.4h-.4zM452.3 571.3h.4v.4h-.4zM452.3 521.3h.4v.4h-.4zM452.3 535.3h.4v.4h-.4zM453.3 584.3h.4v.4h-.4zM453.3 532.3h.4v.4h-.4zM453.3 515.3h.4v.4h-.4zM454.3 560.3h.4v.4h-.4zM454.3 547.3h.4v.4h-.4zM454.3 507.3h.4v.4h-.4zM455.3 543.3h.4v.4h-.4zM455.3 565.3h.4v.4h-.4zM455.3 518.3h.4v.4h-.4zM456.3 534.3h.4v.4h-.4zM456.3 587.3h.4v.4h-.4zM456.3 532.3h.4v.4h-.4zM457.3 528.3h.4v.4h-.4zM457.3 567.3h.4v.4h-.4zM457.3 536.3h.4v.4h-.4zM458.3 504.3h.4v.4h-.4zM458.3 551.3h.4v.4h-.4zM458.3 557.3h.4v.4h-.4zM459.3 515.3h.4v.4h-.4zM459.3 540.3h.4v.4h-.4zM460.3 558.3h.4v.4h-.4zM460.3 521.3h.4v.4h-.4zM460.3 529.3h.4v.4h-.4zM461.3 584.3h.4v.4h-.4zM461.3 534.3h.4v.4h-.4zM461.3 517.3h.4v.4h-.4zM462.3 559.3h.4v.4h-.4zM462.3 545.3h.4v.4h-.4zM462.3 504.3h.4v.4h-.4zM463.3 544.3h.4v.4h-.4zM463.3 559.3h.4v.4h-.4zM463.3 517.3h.4v.4h-.4zM464.3 532.3h.4v.4h-.4zM464.3 581.3h.4v.4h-.4zM464.3 534.3h.4v.4h-.4zM465.3 527.3h.4v.4h-.4zM465.3 568.3h.4v.4h-.4zM465.3 540.3h.4v.4h-.4zM466.3 507.3h.4v.4h-.4zM466.3 551.3h.4v.4h-.4zM466.3 563.3h.4v.4h-.4zM467.3 522.3h.4v.4h-.4zM467.3 534.3h.4v.4h-.4zM467.3 589.3h.4v.4h-.4zM468.3 531.3h.4v.4h-.4zM469.3 576.3h.4v.4h-.4zM469.3 538.3h.4v.4h-.4zM469.3 509.3h.4v.4h-.4zM470.3 558.3h.4v.4h-.4zM470.3 550.3h.4v.4h-.4zM470.3 507.3h.4v.4h-.4zM471.3 546.3h.4v.4h-.4zM471.3 567.3h.4v.4h-.4zM471.3 522.3h.4v.4h-.4zM472.3 531.3h.4v.4h-.4zM472.3 576.3h.4v.4h-.4zM472.3 543.3h.4v.4h-.4zM473.3 506.3h.4v.4h-.4zM473.3 553.3h.4v.4h-.4zM473.3 557.3h.4v.4h-.4zM474.3 509.3h.4v.4h-.4zM474.3 536.3h.4v.4h-.4zM474.3 581.3h.4v.4h-.4zM475.3 525.3h.4v.4h-.4zM475.3 535.3h.4v.4h-.4zM475.3 585.3h.4v.4h-.4zM476.3 535.3h.4v.4h-.4zM476.3 520.3h.4v.4h-.4zM477.3 574.3h.4v.4h-.4zM477.3 536.3h.4v.4h-.4zM477.3 509.3h.4v.4h-.4zM478.3 550.3h.4v.4h-.4zM478.3 554.3h.4v.4h-.4zM478.3 515.3h.4v.4h-.4zM479.3 539.3h.4v.4h-.4zM479.3 580.3h.4v.4h-.4zM479.3 531.3h.4v.4h-.4zM480.3 518.3h.4v.4h-.4zM480.3 567.3h.4v.4h-.4zM480.3 543.3h.4v.4h-.4zM481.3 510.3h.4v.4h-.4zM481.3 548.3h.4v.4h-.4zM481.3 560.3h.4v.4h-.4zM482.3 522.3h.4v.4h-.4zM482.3 533.3h.4v.4h-.4zM482.3 587.3h.4v.4h-.4zM483.3 534.3h.4v.4h-.4zM483.3 521.3h.4v.4h-.4zM483.3 579.3h.4v.4h-.4zM484.3 545.3h.4v.4h-.4zM484.3 512.3h.4v.4h-.4zM484.3 549.3h.4v.4h-.4zM485.3 558.3h.4v.4h-.4zM485.3 509.3h.4v.4h-.4zM486.3 535.3h.4v.4h-.4zM486.3 569.3h.4v.4h-.4zM486.3 529.3h.4v.4h-.4zM487.3 529.3h.4v.4h-.4zM487.3 567.3h.4v.4h-.4zM487.3 541.3h.4v.4h-.4zM488.3 509.3h.4v.4h-.4zM488.3 549.3h.4v.4h-.4zM488.3 559.3h.4v.4h-.4zM489.3 513.3h.4v.4h-.4zM489.3 535.3h.4v.4h-.4zM489.3 584.3h.4v.4h-.4zM490.3 531.3h.4v.4h-.4zM490.3 527.3h.4v.4h-.4zM490.3 561.3h.4v.4h-.4zM491.3 542.3h.4v.4h-.4zM491.3 508.3h.4v.4h-.4zM491.3 557.3h.4v.4h-.4zM492.3 556.3h.4v.4h-.4zM492.3 521.3h.4v.4h-.4zM492.3 536.3h.4v.4h-.4zM493.3 569.3h.4v.4h-.4zM493.3 531.3h.4v.4h-.4zM494.3 529.3h.4v.4h-.4zM494.3 568.3h.4v.4h-.4zM494.3 539.3h.4v.4h-.4zM495.3 512.3h.4v.4h-.4zM495.3 550.3h.4v.4h-.4zM495.3 553.3h.4v.4h-.4zM496.3 506.3h.4v.4h-.4zM496.3 543.3h.4v.4h-.4zM496.3 568.3h.4v.4h-.4zM497.3 517.3h.4v.4h-.4zM497.3 534.3h.4v.4h-.4zM497.3 583.3h.4v.4h-.4zM498.3 532.3h.4v.4h-.4zM498.3 525.3h.4v.4h-.4zM498.3 569.3h.4v.4h-.4zM499.3 540.3h.4v.4h-.4zM499.3 508.3h.4v.4h-.4zM499.3 552.3h.4v.4h-.4zM500.3 555.3h.4v.4h-.4zM500.3 507.3h.4v.4h-.4zM500.3 539.3h.4v.4h-.4zM501.3 569.3h.4v.4h-.4zM501.3 520.3h.4v.4h-.4zM501.3 531.3h.4v.4h-.4zM502.3 588.3h.4v.4h-.4zM502.3 535.3h.4v.4h-.4zM503.3 517.3h.4v.4h-.4zM503.3 566.3h.4v.4h-.4zM503.3 547.3h.4v.4h-.4zM504.3 507.3h.4v.4h-.4zM504.3 544.3h.4v.4h-.4zM504.3 559.3h.4v.4h-.4zM505.3 520.3h.4v.4h-.4zM505.3 532.3h.4v.4h-.4zM505.3 587.3h.4v.4h-.4zM506.3 533.3h.4v.4h-.4zM506.3 522.3h.4v.4h-.4zM506.3 560.3h.4v.4h-.4zM507.3 543.3h.4v.4h-.4zM507.3 506.3h.4v.4h-.4zM507.3 547.3h.4v.4h-.4zM508.3 563.3h.4v.4h-.4zM508.3 521.3h.4v.4h-.4zM508.3 535.3h.4v.4h-.4zM509.3 576.3h.4v.4h-.4zM509.3 532.3h.4v.4h-.4zM509.3 526.3h.4v.4h-.4zM510.3 570.3h.4v.4h-.4zM510.3 538.3h.4v.4h-.4zM511.3 512.3h.4v.4h-.4zM511.3 545.3h.4v.4h-.4zM511.3 553.3h.4v.4h-.4zM512.3 510.3h.4v.4h-.4zM512.3 536.3h.4v.4h-.4zM512.3 575.3h.4v.4h-.4zM513.3 530.3h.4v.4h-.4zM513.3 522.3h.4v.4h-.4zM513.3 568.3h.4v.4h-.4zM514.3 544.3h.4v.4h-.4zM514.3 506.3h.4v.4h-.4zM514.3 552.3h.4v.4h-.4zM515.3 558.3h.4v.4h-.4zM515.3 520.3h.4v.4h-.4zM515.3 532.3h.4v.4h-.4zM516.3 580.3h.4v.4h-.4zM516.3 536.3h.4v.4h-.4zM516.3 513.3h.4v.4h-.4zM517.3 554.3h.4v.4h-.4zM517.3 508.3h.4v.4h-.4zM518.3 538.3h.4v.4h-.4zM518.3 585.3h.4v.4h-.4zM518.3 532.3h.4v.4h-.4zM519.3 522.3h.4v.4h-.4zM519.3 562.3h.4v.4h-.4zM520.3 545.3h.4v.4h-.4zM520.3 505.3h.4v.4h-.4zM521.3 560.3h.4v.4h-.4zM521.3 522.3h.4v.4h-.4zM521.3 532.3h.4v.4h-.4zM522.3 582.3h.4v.4h-.4zM522.3 531.3h.4v.4h-.4zM522.3 521.3h.4v.4h-.4zM523.3 566.3h.4v.4h-.4zM523.3 545.3h.4v.4h-.4zM523.3 508.3h.4v.4h-.4zM524.3 553.3h.4v.4h-.4zM524.3 555.3h.4v.4h-.4zM524.3 510.3h.4v.4h-.4zM525.3 534.3h.4v.4h-.4zM525.3 583.3h.4v.4h-.4zM525.3 530.3h.4v.4h-.4zM526.3 524.3h.4v.4h-.4zM526.3 572.3h.4v.4h-.4zM526.3 541.3h.4v.4h-.4zM527.3 506.3h.4v.4h-.4zM527.3 544.3h.4v.4h-.4zM528.3 559.3h.4v.4h-.4zM528.3 518.3h.4v.4h-.4zM528.3 534.3h.4v.4h-.4zM529.3 576.3h.4v.4h-.4zM529.3 530.3h.4v.4h-.4zM529.3 525.3h.4v.4h-.4zM530.3 568.3h.4v.4h-.4zM530.3 535.3h.4v.4h-.4zM530.3 510.3h.4v.4h-.4zM531.3 557.3h.4v.4h-.4zM531.3 554.3h.4v.4h-.4zM531.3 512.3h.4v.4h-.4zM532.3 534.3h.4v.4h-.4zM532.3 586.3h.4v.4h-.4zM532.3 531.3h.4v.4h-.4zM533.3 524.3h.4v.4h-.4zM533.3 567.3h.4v.4h-.4zM533.3 548.3h.4v.4h-.4zM534.3 508.3h.4v.4h-.4zM534.3 542.3h.4v.4h-.4zM534.3 568.3h.4v.4h-.4zM535.3 528.3h.4v.4h-.4zM535.3 532.3h.4v.4h-.4zM535.3 575.3h.4v.4h-.4zM536.3 528.3h.4v.4h-.4zM536.3 531.3h.4v.4h-.4zM537.3 576.3h.4v.4h-.4zM537.3 538.3h.4v.4h-.4zM537.3 519.3h.4v.4h-.4zM538.3 560.3h.4v.4h-.4zM538.3 547.3h.4v.4h-.4zM538.3 506.3h.4v.4h-.4zM539.3 538.3h.4v.4h-.4zM539.3 562.3h.4v.4h-.4zM539.3 521.3h.4v.4h-.4zM540.3 530.3h.4v.4h-.4zM540.3 580.3h.4v.4h-.4zM540.3 532.3h.4v.4h-.4zM541.3 523.3h.4v.4h-.4zM541.3 574.3h.4v.4h-.4zM541.3 538.3h.4v.4h-.4zM542.3 511.3h.4v.4h-.4zM542.3 559.3h.4v.4h-.4zM542.3 550.3h.4v.4h-.4zM543.3 506.3h.4v.4h-.4zM543.3 543.3h.4v.4h-.4zM543.3 571.3h.4v.4h-.4zM544.3 522.3h.4v.4h-.4zM544.3 531.3h.4v.4h-.4zM545.3 586.3h.4v.4h-.4zM545.3 534.3h.4v.4h-.4zM545.3 518.3h.4v.4h-.4zM546.3 563.3h.4v.4h-.4zM546.3 548.3h.4v.4h-.4zM546.3 506.3h.4v.4h-.4zM547.3 545.3h.4v.4h-.4zM547.3 568.3h.4v.4h-.4zM547.3 523.3h.4v.4h-.4zM548.3 533.3h.4v.4h-.4zM548.3 579.3h.4v.4h-.4zM549.3 518.3h.4v.4h-.4zM549.3 558.3h.4v.4h-.4zM549.3 556.3h.4v.4h-.4zM550.3 504.3h.4v.4h-.4zM550.3 541.3h.4v.4h-.4zM550.3 570.3h.4v.4h-.4zM551.3 527.3h.4v.4h-.4zM551.3 528.3h.4v.4h-.4zM551.3 583.3h.4v.4h-.4zM552.3 530.3h.4v.4h-.4zM552.3 522.3h.4v.4h-.4zM552.3 575.3h.4v.4h-.4zM553.3 539.3h.4v.4h-.4zM553.3 513.3h.4v.4h-.4zM554.3 547.3h.4v.4h-.4zM554.3 552.3h.4v.4h-.4zM554.3 517.3h.4v.4h-.4zM555.3 533.3h.4v.4h-.4zM555.3 585.3h.4v.4h-.4zM555.3 529.3h.4v.4h-.4zM556.3 527.3h.4v.4h-.4zM556.3 573.3h.4v.4h-.4zM556.3 534.3h.4v.4h-.4zM557.3 508.3h.4v.4h-.4zM557.3 552.3h.4v.4h-.4zM557.3 559.3h.4v.4h-.4zM558.3 515.3h.4v.4h-.4zM558.3 531.3h.4v.4h-.4zM558.3 582.3h.4v.4h-.4zM559.3 530.3h.4v.4h-.4zM559.3 523.3h.4v.4h-.4zM559.3 567.3h.4v.4h-.4zM560.3 545.3h.4v.4h-.4zM560.3 509.3h.4v.4h-.4zM560.3 554.3h.4v.4h-.4zM561.3 555.3h.4v.4h-.4zM561.3 508.3h.4v.4h-.4zM562.3 533.3h.4v.4h-.4zM562.3 569.3h.4v.4h-.4zM562.3 526.3h.4v.4h-.4zM563.3 528.3h.4v.4h-.4zM563.3 572.3h.4v.4h-.4zM563.3 535.3h.4v.4h-.4zM564.3 513.3h.4v.4h-.4zM564.3 554.3h.4v.4h-.4zM564.3 550.3h.4v.4h-.4zM565.3 508.3h.4v.4h-.4zM565.3 546.3h.4v.4h-.4zM565.3 554.3h.4v.4h-.4zM566.3 511.3h.4v.4h-.4zM566.3 532.3h.4v.4h-.4zM566.3 580.3h.4v.4h-.4zM567.3 532.3h.4v.4h-.4zM567.3 517.3h.4v.4h-.4zM567.3 572.3h.4v.4h-.4zM568.3 542.3h.4v.4h-.4zM568.3 506.3h.4v.4h-.4zM568.3 546.3h.4v.4h-.4zM569.3 565.3h.4v.4h-.4zM569.3 521.3h.4v.4h-.4zM569.3 531.3h.4v.4h-.4zM570.3 580.3h.4v.4h-.4zM570.3 531.3h.4v.4h-.4zM571.3 515.3h.4v.4h-.4zM571.3 569.3h.4v.4h-.4zM571.3 540.3h.4v.4h-.4zM572.3 505.3h.4v.4h-.4zM572.3 547.3h.4v.4h-.4zM572.3 560.3h.4v.4h-.4zM573.3 513.3h.4v.4h-.4zM573.3 534.3h.4v.4h-.4zM573.3 571.3h.4v.4h-.4zM574.3 527.3h.4v.4h-.4zM574.3 528.3h.4v.4h-.4zM574.3 576.3h.4v.4h-.4zM575.3 532.3h.4v.4h-.4zM575.3 519.3h.4v.4h-.4zM575.3 561.3h.4v.4h-.4zM576.3 552.3h.4v.4h-.4zM576.3 508.3h.4v.4h-.4zM576.3 534.3h.4v.4h-.4zM577.3 578.3h.4v.4h-.4zM577.3 525.3h.4v.4h-.4zM577.3 527.3h.4v.4h-.4zM578.3 584.3h.4v.4h-.4zM578.3 530.3h.4v.4h-.4zM579.3 518.3h.4v.4h-.4zM579.3 572.3h.4v.4h-.4zM579.3 539.3h.4v.4h-.4zM580.3 506.3h.4v.4h-.4zM580.3 551.3h.4v.4h-.4zM580.3 553.3h.4v.4h-.4zM581.3 515.3h.4v.4h-.4zM581.3 533.3h.4v.4h-.4zM581.3 577.3h.4v.4h-.4zM582.3 520.3h.4v.4h-.4zM582.3 525.3h.4v.4h-.4zM582.3 574.3h.4v.4h-.4zM583.3 534.3h.4v.4h-.4zM583.3 510.3h.4v.4h-.4zM583.3 553.3h.4v.4h-.4zM584.3 546.3h.4v.4h-.4zM584.3 510.3h.4v.4h-.4zM584.3 541.3h.4v.4h-.4zM585.3 564.3h.4v.4h-.4zM585.3 524.3h.4v.4h-.4zM585.3 525.3h.4v.4h-.4zM586.3 577.3h.4v.4h-.4zM586.3 529.3h.4v.4h-.4zM587.3 516.3h.4v.4h-.4zM587.3 561.3h.4v.4h-.4zM587.3 552.3h.4v.4h-.4zM588.3 505.3h.4v.4h-.4zM588.3 541.3h.4v.4h-.4zM588.3 562.3h.4v.4h-.4zM589.3 516.3h.4v.4h-.4zM589.3 530.3h.4v.4h-.4zM589.3 578.3h.4v.4h-.4zM590.3 525.3h.4v.4h-.4zM590.3 527.3h.4v.4h-.4zM590.3 569.3h.4v.4h-.4zM591.3 531.3h.4v.4h-.4zM591.3 512.3h.4v.4h-.4zM591.3 559.3h.4v.4h-.4zM592.3 546.3h.4v.4h-.4zM592.3 506.3h.4v.4h-.4zM592.3 538.3h.4v.4h-.4zM593.3 565.3h.4v.4h-.4zM593.3 523.3h.4v.4h-.4zM593.3 525.3h.4v.4h-.4zM594.3 585.3h.4v.4h-.4zM594.3 526.3h.4v.4h-.4zM594.3 516.3h.4v.4h-.4zM595.3 566.3h.4v.4h-.4zM595.3 538.3h.4v.4h-.4zM596.3 504.3h.4v.4h-.4zM596.3 541.3h.4v.4h-.4zM596.3 562.3h.4v.4h-.4zM597.3 516.3h.4v.4h-.4zM597.3 527.3h.4v.4h-.4zM597.3 579.3h.4v.4h-.4zM598.3 525.3h.4v.4h-.4zM598.3 523.3h.4v.4h-.4zM598.3 575.3h.4v.4h-.4zM599.3 532.3h.4v.4h-.4zM599.3 516.3h.4v.4h-.4zM599.3 560.3h.4v.4h-.4zM600.3 536.3h.4v.4h-.4zM600.3 506.3h.4v.4h-.4zM600.3 537.3h.4v.4h-.4zM601.3 561.3h.4v.4h-.4zM601.3 516.3h.4v.4h-.4zM601.3 529.3h.4v.4h-.4zM602.3 582.3h.4v.4h-.4zM602.3 524.3h.4v.4h-.4zM602.3 518.3h.4v.4h-.4zM603.3 563.3h.4v.4h-.4zM603.3 537.3h.4v.4h-.4zM604.3 508.3h.4v.4h-.4zM604.3 540.3h.4v.4h-.4zM604.3 548.3h.4v.4h-.4zM605.3 504.3h.4v.4h-.4zM605.3 542.3h.4v.4h-.4zM605.3 563.3h.4v.4h-.4zM606.3 522.3h.4v.4h-.4zM606.3 527.3h.4v.4h-.4zM606.3 578.3h.4v.4h-.4zM607.3 531.3h.4v.4h-.4zM607.3 514.3h.4v.4h-.4zM607.3 562.3h.4v.4h-.4zM608.3 531.3h.4v.4h-.4zM608.3 504.3h.4v.4h-.4zM608.3 544.3h.4v.4h-.4zM609.3 543.3h.4v.4h-.4zM609.3 504.3h.4v.4h-.4zM609.3 536.3h.4v.4h-.4zM610.3 566.3h.4v.4h-.4zM610.3 517.3h.4v.4h-.4zM610.3 525.3h.4v.4h-.4zM611.3 571.3h.4v.4h-.4zM611.3 531.3h.4v.4h-.4zM611.3 517.3h.4v.4h-.4zM612.3 558.3h.4v.4h-.4zM612.3 547.3h.4v.4h-.4zM613.3 505.3h.4v.4h-.4zM613.3 532.3h.4v.4h-.4zM613.3 563.3h.4v.4h-.4zM614.3 516.3h.4v.4h-.4zM614.3 531.3h.4v.4h-.4zM614.3 581.3h.4v.4h-.4zM615.3 529.3h.4v.4h-.4zM615.3 514.3h.4v.4h-.4zM615.3 569.3h.4v.4h-.4zM616.3 531.3h.4v.4h-.4zM616.3 505.3h.4v.4h-.4zM616.3 538.3h.4v.4h-.4zM617.3 561.3h.4v.4h-.4zM617.3 511.3h.4v.4h-.4zM617.3 529.3h.4v.4h-.4zM618.3 584.3h.4v.4h-.4zM618.3 524.3h.4v.4h-.4zM618.3 517.3h.4v.4h-.4zM619.3 560.3h.4v.4h-.4zM619.3 535.3h.4v.4h-.4zM619.3 508.3h.4v.4h-.4zM620.3 536.3h.4v.4h-.4zM620.3 560.3h.4v.4h-.4zM621.3 511.3h.4v.4h-.4zM621.3 528.3h.4v.4h-.4zM621.3 575.3h.4v.4h-.4zM622.3 522.3h.4v.4h-.4zM622.3 521.3h.4v.4h-.4zM622.3 569.3h.4v.4h-.4zM623.3 531.3h.4v.4h-.4zM623.3 509.3h.4v.4h-.4zM623.3 546.3h.4v.4h-.4zM624.3 550.3h.4v.4h-.4zM624.3 505.3h.4v.4h-.4zM624.3 536.3h.4v.4h-.4zM625.3 569.3h.4v.4h-.4zM625.3 521.3h.4v.4h-.4zM626.3 567.3h.4v.4h-.4zM626.3 535.3h.4v.4h-.4zM626.3 509.3h.4v.4h-.4zM627.3 544.3h.4v.4h-.4zM627.3 553.3h.4v.4h-.4zM627.3 510.3h.4v.4h-.4zM628.3 528.3h.4v.4h-.4zM628.3 568.3h.4v.4h-.4zM628.3 521.3h.4v.4h-.4zM629.3 522.3h.4v.4h-.4zM629.3 575.3h.4v.4h-.4zM630.3 530.3h.4v.4h-.4zM630.3 510.3h.4v.4h-.4zM630.3 555.3h.4v.4h-.4zM631.3 543.3h.4v.4h-.4zM631.3 503.3h.4v.4h-.4zM631.3 532.3h.4v.4h-.4zM632.3 561.3h.4v.4h-.4zM632.3 522.3h.4v.4h-.4zM632.3 524.3h.4v.4h-.4zM633.3 582.3h.4v.4h-.4zM633.3 522.3h.4v.4h-.4zM633.3 518.3h.4v.4h-.4zM634.3 560.3h.4v.4h-.4zM634.3 536.3h.4v.4h-.4zM634.3 507.3h.4v.4h-.4zM635.3 536.3h.4v.4h-.4zM635.3 565.3h.4v.4h-.4zM635.3 518.3h.4v.4h-.4zM636.3 524.3h.4v.4h-.4zM636.3 577.3h.4v.4h-.4zM636.3 533.3h.4v.4h-.4zM637.3 510.3h.4v.4h-.4zM637.3 550.3h.4v.4h-.4zM638.3 536.3h.4v.4h-.4zM638.3 503.3h.4v.4h-.4zM638.3 531.3h.4v.4h-.4zM639.3 567.3h.4v.4h-.4zM639.3 522.3h.4v.4h-.4zM639.3 526.3h.4v.4h-.4zM640.3 577.3h.4v.4h-.4zM640.3 526.3h.4v.4h-.4zM640.3 506.3h.4v.4h-.4zM641.3 543.3h.4v.4h-.4zM641.3 545.3h.4v.4h-.4zM641.3 510.3h.4v.4h-.4zM642.3 528.3h.4v.4h-.4zM642.3 579.3h.4v.4h-.4zM642.3 523.3h.4v.4h-.4zM643.3 517.3h.4v.4h-.4zM643.3 574.3h.4v.4h-.4zM643.3 528.3h.4v.4h-.4zM644.3 510.3h.4v.4h-.4zM644.3 546.3h.4v.4h-.4zM644.3 551.3h.4v.4h-.4zM645.3 506.3h.4v.4h-.4zM645.3 532.3h.4v.4h-.4zM645.3 577.3h.4v.4h-.4zM646.3 522.3h.4v.4h-.4zM646.3 520.3h.4v.4h-.4zM647.3 573.3h.4v.4h-.4zM647.3 527.3h.4v.4h-.4zM647.3 510.3h.4v.4h-.4zM648.3 550.3h.4v.4h-.4zM648.3 508.3h.4v.4h-.4zM649.3 529.3h.4v.4h-.4zM649.3 566.3h.4v.4h-.4zM649.3 519.3h.4v.4h-.4zM650.3 523.3h.4v.4h-.4zM650.3 575.3h.4v.4h-.4zM650.3 529.3h.4v.4h-.4zM651.3 508.3h.4v.4h-.4zM651.3 539.3h.4v.4h-.4zM651.3 553.3h.4v.4h-.4zM652.3 510.3h.4v.4h-.4zM652.3 531.3h.4v.4h-.4zM652.3 578.3h.4v.4h-.4zM653.3 520.3h.4v.4h-.4zM653.3 517.3h.4v.4h-.4zM653.3 562.3h.4v.4h-.4zM654.3 529.3h.4v.4h-.4zM654.3 504.3h.4v.4h-.4zM655.3 532.3h.4v.4h-.4zM655.3 551.3h.4v.4h-.4zM655.3 514.3h.4v.4h-.4zM656.3 525.3h.4v.4h-.4zM656.3 581.3h.4v.4h-.4zM656.3 527.3h.4v.4h-.4zM657.3 520.3h.4v.4h-.4zM657.3 569.3h.4v.4h-.4zM657.3 529.3h.4v.4h-.4zM658.3 509.3h.4v.4h-.4zM658.3 545.3h.4v.4h-.4zM658.3 547.3h.4v.4h-.4zM659.3 511.3h.4v.4h-.4zM659.3 530.3h.4v.4h-.4zM659.3 564.3h.4v.4h-.4zM660.3 518.3h.4v.4h-.4zM660.3 521.3h.4v.4h-.4zM660.3 576.3h.4v.4h-.4zM661.3 527.3h.4v.4h-.4zM661.3 510.3h.4v.4h-.4zM661.3 543.3h.4v.4h-.4zM662.3 542.3h.4v.4h-.4zM662.3 509.3h.4v.4h-.4zM662.3 532.3h.4v.4h-.4zM663.3 563.3h.4v.4h-.4zM663.3 514.3h.4v.4h-.4zM664.3 523.3h.4v.4h-.4zM664.3 582.3h.4v.4h-.4zM664.3 525.3h.4v.4h-.4zM665.3 507.3h.4v.4h-.4zM665.3 545.3h.4v.4h-.4zM665.3 551.3h.4v.4h-.4zM666.3 508.3h.4v.4h-.4zM666.3 528.3h.4v.4h-.4zM666.3 581.3h.4v.4h-.4zM667.3 522.3h.4v.4h-.4zM667.3 520.3h.4v.4h-.4zM667.3 561.3h.4v.4h-.4zM668.3 528.3h.4v.4h-.4zM668.3 504.3h.4v.4h-.4zM668.3 540.3h.4v.4h-.4zM669.3 551.3h.4v.4h-.4zM669.3 510.3h.4v.4h-.4zM669.3 526.3h.4v.4h-.4zM670.3 576.3h.4v.4h-.4zM670.3 519.3h.4v.4h-.4zM670.3 515.3h.4v.4h-.4zM671.3 581.3h.4v.4h-.4zM671.3 523.3h.4v.4h-.4zM672.3 506.3h.4v.4h-.4zM672.3 545.3h.4v.4h-.4zM673.3 509.3h.4v.4h-.4zM673.3 524.3h.4v.4h-.4zM673.3 577.3h.4v.4h-.4zM674.3 522.3h.4v.4h-.4zM674.3 514.3h.4v.4h-.4zM674.3 560.3h.4v.4h-.4zM675.3 530.3h.4v.4h-.4zM675.3 507.3h.4v.4h-.4zM675.3 546.3h.4v.4h-.4zM676.3 540.3h.4v.4h-.4zM676.3 506.3h.4v.4h-.4zM676.3 528.3h.4v.4h-.4zM677.3 556.3h.4v.4h-.4zM677.3 516.3h.4v.4h-.4zM677.3 521.3h.4v.4h-.4zM678.3 559.3h.4v.4h-.4zM678.3 527.3h.4v.4h-.4zM678.3 514.3h.4v.4h-.4zM679.3 555.3h.4v.4h-.4zM679.3 530.3h.4v.4h-.4zM679.3 503.3h.4v.4h-.4zM680.3 530.3h.4v.4h-.4zM680.3 555.3h.4v.4h-.4zM681.3 512.3h.4v.4h-.4zM681.3 524.3h.4v.4h-.4zM681.3 582.3h.4v.4h-.4zM682.3 522.3h.4v.4h-.4zM682.3 514.3h.4v.4h-.4zM682.3 547.3h.4v.4h-.4zM683.3 530.3h.4v.4h-.4zM683.3 501.3h.4v.4h-.4zM683.3 537.3h.4v.4h-.4zM684.3 554.3h.4v.4h-.4zM684.3 514.3h.4v.4h-.4zM684.3 521.3h.4v.4h-.4zM685.3 580.3h.4v.4h-.4zM685.3 524.3h.4v.4h-.4zM685.3 513.3h.4v.4h-.4zM686.3 551.3h.4v.4h-.4zM686.3 538.3h.4v.4h-.4zM686.3 506.3h.4v.4h-.4zM687.3 534.3h.4v.4h-.4zM687.3 553.3h.4v.4h-.4zM687.3 508.3h.4v.4h-.4zM688.3 522.3h.4v.4h-.4zM688.3 581.3h.4v.4h-.4zM689.3 521.3h.4v.4h-.4zM689.3 513.3h.4v.4h-.4zM689.3 549.3h.4v.4h-.4zM690.3 530.3h.4v.4h-.4zM690.3 504.3h.4v.4h-.4zM690.3 538.3h.4v.4h-.4zM691.3 543.3h.4v.4h-.4zM691.3 507.3h.4v.4h-.4zM691.3 528.3h.4v.4h-.4zM692.3 551.3h.4v.4h-.4zM692.3 515.3h.4v.4h-.4zM692.3 518.3h.4v.4h-.4zM693.3 582.3h.4v.4h-.4zM693.3 521.3h.4v.4h-.4zM693.3 514.3h.4v.4h-.4zM694.3 557.3h.4v.4h-.4zM694.3 531.3h.4v.4h-.4zM694.3 506.3h.4v.4h-.4zM695.3 537.3h.4v.4h-.4zM695.3 542.3h.4v.4h-.4zM695.3 505.3h.4v.4h-.4zM696.3 526.3h.4v.4h-.4zM696.3 550.3h.4v.4h-.4zM696.3 510.3h.4v.4h-.4zM697.3 520.3h.4v.4h-.4zM697.3 576.3h.4v.4h-.4zM698.3 526.3h.4v.4h-.4zM698.3 507.3h.4v.4h-.4zM698.3 542.3h.4v.4h-.4zM699.3 545.3h.4v.4h-.4zM699.3 509.3h.4v.4h-.4zM699.3 525.3h.4v.4h-.4zM700.3 574.3h.4v.4h-.4zM700.3 516.3h.4v.4h-.4zM700.3 518.3h.4v.4h-.4zM701.3 578.3h.4v.4h-.4zM701.3 527.3h.4v.4h-.4zM701.3 510.3h.4v.4h-.4zM702.3 538.3h.4v.4h-.4zM702.3 542.3h.4v.4h-.4zM702.3 508.3h.4v.4h-.4zM703.3 525.3h.4v.4h-.4zM703.3 577.3h.4v.4h-.4zM703.3 518.3h.4v.4h-.4zM704.3 513.3h.4v.4h-.4zM704.3 551.3h.4v.4h-.4zM704.3 530.3h.4v.4h-.4zM705.3 503.3h.4v.4h-.4zM705.3 533.3h.4v.4h-.4zM706.3 554.3h.4v.4h-.4zM706.3 517.3h.4v.4h-.4zM707.3 583.3h.4v.4h-.4zM707.3 521.3h.4v.4h-.4zM707.3 514.3h.4v.4h-.4zM708.3 548.3h.4v.4h-.4zM708.3 533.3h.4v.4h-.4zM708.3 501.3h.4v.4h-.4zM709.3 531.3h.4v.4h-.4zM709.3 555.3h.4v.4h-.4zM709.3 513.3h.4v.4h-.4zM710.3 516.3h.4v.4h-.4zM710.3 561.3h.4v.4h-.4zM710.3 525.3h.4v.4h-.4zM711.3 509.3h.4v.4h-.4zM711.3 551.3h.4v.4h-.4zM711.3 531.3h.4v.4h-.4zM712.3 503.3h.4v.4h-.4zM712.3 536.3h.4v.4h-.4zM712.3 550.3h.4v.4h-.4zM713.3 509.3h.4v.4h-.4zM713.3 525.3h.4v.4h-.4zM713.3 565.3h.4v.4h-.4zM714.3 517.3h.4v.4h-.4zM714.3 515.3h.4v.4h-.4zM715.3 555.3h.4v.4h-.4zM715.3 528.3h.4v.4h-.4zM715.3 504.3h.4v.4h-.4zM716.3 535.3h.4v.4h-.4zM716.3 554.3h.4v.4h-.4zM716.3 511.3h.4v.4h-.4zM717.3 521.3h.4v.4h-.4zM717.3 578.3h.4v.4h-.4zM717.3 519.3h.4v.4h-.4zM718.3 511.3h.4v.4h-.4zM718.3 548.3h.4v.4h-.4zM718.3 530.3h.4v.4h-.4zM719.3 505.3h.4v.4h-.4zM719.3 529.3h.4v.4h-.4zM719.3 543.3h.4v.4h-.4zM720.3 510.3h.4v.4h-.4zM720.3 520.3h.4v.4h-.4zM720.3 580.3h.4v.4h-.4zM721.3 520.3h.4v.4h-.4zM721.3 510.3h.4v.4h-.4zM721.3 547.3h.4v.4h-.4zM722.3 533.3h.4v.4h-.4zM722.3 502.3h.4v.4h-.4zM723.3 539.3h.4v.4h-.4zM723.3 533.3h.4v.4h-.4zM723.3 506.3h.4v.4h-.4zM724.3 526.3h.4v.4h-.4zM724.3 561.3h.4v.4h-.4zM724.3 513.3h.4v.4h-.4zM725.3 516.3h.4v.4h-.4zM725.3 556.3h.4v.4h-.4zM725.3 527.3h.4v.4h-.4zM726.3 509.3h.4v.4h-.4zM726.3 545.3h.4v.4h-.4zM726.3 540.3h.4v.4h-.4zM727.3 503.3h.4v.4h-.4zM727.3 527.3h.4v.4h-.4zM727.3 566.3h.4v.4h-.4zM728.3 518.3h.4v.4h-.4zM728.3 515.3h.4v.4h-.4zM728.3 555.3h.4v.4h-.4zM729.3 534.3h.4v.4h-.4zM729.3 507.3h.4v.4h-.4zM729.3 545.3h.4v.4h-.4zM730.3 539.3h.4v.4h-.4zM730.3 503.3h.4v.4h-.4zM730.3 525.3h.4v.4h-.4zM731.3 565.3h.4v.4h-.4zM731.3 516.3h.4v.4h-.4zM732.3 519.3h.4v.4h-.4zM732.3 575.3h.4v.4h-.4zM732.3 523.3h.4v.4h-.4zM733.3 509.3h.4v.4h-.4zM733.3 548.3h.4v.4h-.4zM733.3 536.3h.4v.4h-.4zM734.3 503.3h.4v.4h-.4zM734.3 528.3h.4v.4h-.4zM734.3 555.3h.4v.4h-.4zM735.3 513.3h.4v.4h-.4zM735.3 521.3h.4v.4h-.4zM735.3 577.3h.4v.4h-.4zM736.3 519.3h.4v.4h-.4zM736.3 511.3h.4v.4h-.4zM736.3 546.3h.4v.4h-.4zM737.3 535.3h.4v.4h-.4zM737.3 504.3h.4v.4h-.4zM737.3 528.3h.4v.4h-.4zM738.3 552.3h.4v.4h-.4zM738.3 514.3h.4v.4h-.4zM739.3 564.3h.4v.4h-.4zM739.3 522.3h.4v.4h-.4zM740.3 506.3h.4v.4h-.4zM740.3 539.3h.4v.4h-.4zM740.3 536.3h.4v.4h-.4zM741.3 506.3h.4v.4h-.4zM741.3 525.3h.4v.4h-.4zM741.3 552.3h.4v.4h-.4zM742.3 510.3h.4v.4h-.4zM742.3 521.3h.4v.4h-.4zM742.3 571.3h.4v.4h-.4zM743.3 517.3h.4v.4h-.4zM743.3 552.3h.4v.4h-.4zM744.3 527.3h.4v.4h-.4zM744.3 503.3h.4v.4h-.4zM744.3 532.3h.4v.4h-.4zM745.3 553.3h.4v.4h-.4zM745.3 509.3h.4v.4h-.4zM745.3 519.3h.4v.4h-.4zM746.3 577.3h.4v.4h-.4zM746.3 521.3h.4v.4h-.4zM746.3 508.3h.4v.4h-.4zM747.3 557.3h.4v.4h-.4zM747.3 527.3h.4v.4h-.4zM747.3 503.3h.4v.4h-.4zM748.3 528.3h.4v.4h-.4zM748.3 551.3h.4v.4h-.4zM749.3 512.3h.4v.4h-.4zM749.3 517.3h.4v.4h-.4zM749.3 579.3h.4v.4h-.4zM750.3 516.3h.4v.4h-.4zM750.3 512.3h.4v.4h-.4zM750.3 573.3h.4v.4h-.4zM751.3 520.3h.4v.4h-.4zM751.3 509.3h.4v.4h-.4zM751.3 547.3h.4v.4h-.4zM752.3 535.3h.4v.4h-.4zM752.3 500.3h.4v.4h-.4zM752.3 533.3h.4v.4h-.4zM753.3 547.3h.4v.4h-.4zM753.3 511.3h.4v.4h-.4zM753.3 522.3h.4v.4h-.4zM754.3 574.3h.4v.4h-.4zM754.3 517.3h.4v.4h-.4zM754.3 514.3h.4v.4h-.4zM755.3 549.3h.4v.4h-.4zM755.3 531.3h.4v.4h-.4zM755.3 501.3h.4v.4h-.4zM756.3 530.3h.4v.4h-.4zM756.3 551.3h.4v.4h-.4zM757.3 510.3h.4v.4h-.4zM757.3 521.3h.4v.4h-.4zM757.3 578.3h.4v.4h-.4zM758.3 522.3h.4v.4h-.4zM758.3 508.3h.4v.4h-.4zM758.3 546.3h.4v.4h-.4zM759.3 538.3h.4v.4h-.4zM759.3 503.3h.4v.4h-.4zM759.3 529.3h.4v.4h-.4zM760.3 552.3h.4v.4h-.4zM760.3 513.3h.4v.4h-.4zM760.3 519.3h.4v.4h-.4zM761.3 579.3h.4v.4h-.4zM761.3 518.3h.4v.4h-.4zM761.3 512.3h.4v.4h-.4zM762.3 552.3h.4v.4h-.4zM762.3 528.3h.4v.4h-.4zM762.3 502.3h.4v.4h-.4zM763.3 540.3h.4v.4h-.4zM763.3 541.3h.4v.4h-.4zM763.3 503.3h.4v.4h-.4zM764.3 526.3h.4v.4h-.4zM764.3 559.3h.4v.4h-.4zM764.3 512.3h.4v.4h-.4zM765.3 517.3h.4v.4h-.4zM765.3 573.3h.4v.4h-.4zM766.3 520.3h.4v.4h-.4zM766.3 507.3h.4v.4h-.4zM766.3 543.3h.4v.4h-.4zM767.3 537.3h.4v.4h-.4zM767.3 506.3h.4v.4h-.4zM767.3 525.3h.4v.4h-.4zM768.3 554.3h.4v.4h-.4zM768.3 513.3h.4v.4h-.4zM768.3 514.3h.4v.4h-.4zM769.3 555.3h.4v.4h-.4zM769.3 530.3h.4v.4h-.4zM769.3 500.3h.4v.4h-.4zM770.3 534.3h.4v.4h-.4zM770.3 538.3h.4v.4h-.4zM770.3 502.3h.4v.4h-.4zM771.3 525.3h.4v.4h-.4zM771.3 555.3h.4v.4h-.4zM771.3 513.3h.4v.4h-.4zM772.3 517.3h.4v.4h-.4zM772.3 573.3h.4v.4h-.4zM772.3 522.3h.4v.4h-.4zM773.3 510.3h.4v.4h-.4zM773.3 542.3h.4v.4h-.4zM774.3 531.3h.4v.4h-.4zM774.3 502.3h.4v.4h-.4zM774.3 525.3h.4v.4h-.4zM775.3 570.3h.4v.4h-.4zM775.3 512.3h.4v.4h-.4zM775.3 518.3h.4v.4h-.4zM776.3 576.3h.4v.4h-.4zM776.3 517.3h.4v.4h-.4zM776.3 510.3h.4v.4h-.4zM777.3 551.3h.4v.4h-.4zM777.3 523.3h.4v.4h-.4zM777.3 502.3h.4v.4h-.4zM778.3 537.3h.4v.4h-.4zM778.3 534.3h.4v.4h-.4zM778.3 505.3h.4v.4h-.4zM779.3 518.3h.4v.4h-.4zM779.3 579.3h.4v.4h-.4zM779.3 516.3h.4v.4h-.4zM780.3 513.3h.4v.4h-.4zM780.3 554.3h.4v.4h-.4zM780.3 525.3h.4v.4h-.4zM781.3 501.3h.4v.4h-.4zM781.3 531.3h.4v.4h-.4zM781.3 549.3h.4v.4h-.4zM782.3 509.3h.4v.4h-.4zM782.3 519.3h.4v.4h-.4zM783.3 574.3h.4v.4h-.4zM783.3 519.3h.4v.4h-.4zM783.3 509.3h.4v.4h-.4zM784.3 556.3h.4v.4h-.4zM784.3 530.3h.4v.4h-.4zM784.3 504.3h.4v.4h-.4zM785.3 533.3h.4v.4h-.4zM785.3 540.3h.4v.4h-.4zM785.3 504.3h.4v.4h-.4zM786.3 530.3h.4v.4h-.4zM786.3 552.3h.4v.4h-.4zM786.3 508.3h.4v.4h-.4zM787.3 516.3h.4v.4h-.4zM787.3 567.3h.4v.4h-.4zM787.3 518.3h.4v.4h-.4zM788.3 507.3h.4v.4h-.4zM788.3 548.3h.4v.4h-.4zM788.3 530.3h.4v.4h-.4zM789.3 502.3h.4v.4h-.4zM789.3 534.3h.4v.4h-.4zM789.3 548.3h.4v.4h-.4zM790.3 510.3h.4v.4h-.4zM790.3 519.3h.4v.4h-.4zM791.3 576.3h.4v.4h-.4zM791.3 517.3h.4v.4h-.4zM791.3 512.3h.4v.4h-.4zM792.3 550.3h.4v.4h-.4zM792.3 526.3h.4v.4h-.4zM792.3 503.3h.4v.4h-.4zM793.3 538.3h.4v.4h-.4zM793.3 536.3h.4v.4h-.4zM793.3 504.3h.4v.4h-.4zM794.3 522.3h.4v.4h-.4zM794.3 560.3h.4v.4h-.4zM794.3 509.3h.4v.4h-.4zM795.3 518.3h.4v.4h-.4zM795.3 577.3h.4v.4h-.4zM796.3 509.3h.4v.4h-.4zM796.3 545.3h.4v.4h-.4zM796.3 531.3h.4v.4h-.4zM797.3 500.3h.4v.4h-.4zM797.3 526.3h.4v.4h-.4zM797.3 550.3h.4v.4h-.4zM798.3 510.3h.4v.4h-.4zM798.3 519.3h.4v.4h-.4zM798.3 565.3h.4v.4h-.4zM799.3 519.3h.4v.4h-.4zM799.3 511.3h.4v.4h-.4zM800.3 550.3h.4v.4h-.4zM800.3 524.3h.4v.4h-.4zM800.3 503.3h.4v.4h-.4zM801.3 544.3h.4v.4h-.4zM801.3 539.3h.4v.4h-.4zM801.3 501.3h.4v.4h-.4zM802.3 524.3h.4v.4h-.4zM802.3 557.3h.4v.4h-.4zM802.3 512.3h.4v.4h-.4zM803.3 519.3h.4v.4h-.4zM803.3 573.3h.4v.4h-.4zM803.3 520.3h.4v.4h-.4zM804.3 509.3h.4v.4h-.4zM804.3 545.3h.4v.4h-.4zM804.3 529.3h.4v.4h-.4zM805.3 500.3h.4v.4h-.4zM805.3 534.3h.4v.4h-.4zM805.3 566.3h.4v.4h-.4zM806.3 509.3h.4v.4h-.4zM806.3 518.3h.4v.4h-.4zM806.3 577.3h.4v.4h-.4zM807.3 519.3h.4v.4h-.4zM807.3 505.3h.4v.4h-.4zM808.3 546.3h.4v.4h-.4zM808.3 529.3h.4v.4h-.4zM808.3 504.3h.4v.4h-.4zM809.3 526.3h.4v.4h-.4zM809.3 549.3h.4v.4h-.4zM809.3 511.3h.4v.4h-.4zM810.3 513.3h.4v.4h-.4zM810.3 576.3h.4v.4h-.4zM810.3 522.3h.4v.4h-.4zM811.3 509.3h.4v.4h-.4zM811.3 547.3h.4v.4h-.4zM811.3 528.3h.4v.4h-.4zM812.3 504.3h.4v.4h-.4zM812.3 523.3h.4v.4h-.4zM812.3 557.3h.4v.4h-.4zM813.3 513.3h.4v.4h-.4zM813.3 515.3h.4v.4h-.4zM813.3 560.3h.4v.4h-.4zM814.3 520.3h.4v.4h-.4zM814.3 508.3h.4v.4h-.4zM814.3 539.3h.4v.4h-.4zM815.3 534.3h.4v.4h-.4zM815.3 503.3h.4v.4h-.4zM815.3 527.3h.4v.4h-.4zM816.3 554.3h.4v.4h-.4zM816.3 513.3h.4v.4h-.4zM817.3 513.3h.4v.4h-.4zM817.3 578.3h.4v.4h-.4zM817.3 518.3h.4v.4h-.4zM818.3 507.3h.4v.4h-.4zM818.3 553.3h.4v.4h-.4zM818.3 533.3h.4v.4h-.4zM819.3 500.3h.4v.4h-.4zM819.3 526.3h.4v.4h-.4zM819.3 550.3h.4v.4h-.4zM820.3 509.3h.4v.4h-.4zM820.3 517.3h.4v.4h-.4zM820.3 574.3h.4v.4h-.4zM821.3 515.3h.4v.4h-.4zM821.3 507.3h.4v.4h-.4zM821.3 554.3h.4v.4h-.4zM822.3 535.3h.4v.4h-.4zM822.3 501.3h.4v.4h-.4zM822.3 528.3h.4v.4h-.4zM823.3 549.3h.4v.4h-.4zM823.3 511.3h.4v.4h-.4zM823.3 516.3h.4v.4h-.4zM824.3 576.3h.4v.4h-.4zM824.3 521.3h.4v.4h-.4zM825.3 509.3h.4v.4h-.4zM825.3 541.3h.4v.4h-.4zM825.3 533.3h.4v.4h-.4zM826.3 506.3h.4v.4h-.4zM826.3 525.3h.4v.4h-.4zM826.3 552.3h.4v.4h-.4zM827.3 509.3h.4v.4h-.4zM827.3 513.3h.4v.4h-.4zM827.3 570.3h.4v.4h-.4zM828.3 518.3h.4v.4h-.4zM828.3 506.3h.4v.4h-.4zM828.3 546.3h.4v.4h-.4zM829.3 527.3h.4v.4h-.4zM829.3 502.3h.4v.4h-.4zM829.3 526.3h.4v.4h-.4zM830.3 544.3h.4v.4h-.4zM830.3 508.3h.4v.4h-.4zM830.3 515.3h.4v.4h-.4zM831.3 565.3h.4v.4h-.4zM831.3 526.3h.4v.4h-.4zM831.3 504.3h.4v.4h-.4zM832.3 534.3h.4v.4h-.4zM832.3 540.3h.4v.4h-.4zM832.3 504.3h.4v.4h-.4zM833.3 519.3h.4v.4h-.4zM833.3 569.3h.4v.4h-.4zM834.3 518.3h.4v.4h-.4zM834.3 505.3h.4v.4h-.4zM834.3 542.3h.4v.4h-.4zM835.3 534.3h.4v.4h-.4zM835.3 502.3h.4v.4h-.4zM835.3 523.3h.4v.4h-.4zM836.3 554.3h.4v.4h-.4zM836.3 510.3h.4v.4h-.4zM836.3 513.3h.4v.4h-.4zM837.3 565.3h.4v.4h-.4zM837.3 522.3h.4v.4h-.4zM837.3 506.3h.4v.4h-.4zM838.3 538.3h.4v.4h-.4zM838.3 537.3h.4v.4h-.4zM838.3 507.3h.4v.4h-.4zM839.3 516.3h.4v.4h-.4zM839.3 575.3h.4v.4h-.4zM840.3 508.3h.4v.4h-.4zM840.3 558.3h.4v.4h-.4zM840.3 519.3h.4v.4h-.4zM841.3 503.3h.4v.4h-.4zM841.3 536.3h.4v.4h-.4zM842.3 535.3h.4v.4h-.4zM842.3 503.3h.4v.4h-.4zM842.3 524.3h.4v.4h-.4zM843.3 551.3h.4v.4h-.4zM843.3 507.3h.4v.4h-.4zM843.3 515.3h.4v.4h-.4zM844.3 565.3h.4v.4h-.4zM844.3 522.3h.4v.4h-.4zM844.3 505.3h.4v.4h-.4zM845.3 541.3h.4v.4h-.4zM845.3 525.3h.4v.4h-.4zM845.3 501.3h.4v.4h-.4zM846.3 531.3h.4v.4h-.4zM846.3 552.3h.4v.4h-.4zM846.3 511.3h.4v.4h-.4zM847.3 512.3h.4v.4h-.4zM847.3 568.3h.4v.4h-.4zM847.3 524.3h.4v.4h-.4zM848.3 503.3h.4v.4h-.4zM848.3 537.3h.4v.4h-.4zM848.3 538.3h.4v.4h-.4zM849.3 504.3h.4v.4h-.4zM849.3 524.3h.4v.4h-.4zM850.3 554.3h.4v.4h-.4zM850.3 508.3h.4v.4h-.4zM850.3 514.3h.4v.4h-.4zM851.3 574.3h.4v.4h-.4zM851.3 518.3h.4v.4h-.4zM851.3 506.3h.4v.4h-.4zM852.3 546.3h.4v.4h-.4zM852.3 526.3h.4v.4h-.4zM852.3 505.3h.4v.4h-.4zM853.3 537.3h.4v.4h-.4zM853.3 535.3h.4v.4h-.4zM853.3 500.3h.4v.4h-.4zM854.3 522.3h.4v.4h-.4zM854.3 552.3h.4v.4h-.4zM854.3 506.3h.4v.4h-.4zM855.3 515.3h.4v.4h-.4zM855.3 571.3h.4v.4h-.4zM855.3 512.3h.4v.4h-.4zM856.3 505.3h.4v.4h-.4zM856.3 549.3h.4v.4h-.4zM856.3 524.3h.4v.4h-.4zM857.3 503.3h.4v.4h-.4zM857.3 524.3h.4v.4h-.4zM857.3 547.3h.4v.4h-.4zM858.3 508.3h.4v.4h-.4zM858.3 519.3h.4v.4h-.4zM859.3 555.3h.4v.4h-.4zM859.3 511.3h.4v.4h-.4zM860.3 553.3h.4v.4h-.4zM860.3 521.3h.4v.4h-.4zM860.3 499.3h.4v.4h-.4zM861.3 535.3h.4v.4h-.4zM861.3 536.3h.4v.4h-.4zM861.3 499.3h.4v.4h-.4zM862.3 526.3h.4v.4h-.4zM862.3 549.3h.4v.4h-.4zM862.3 508.3h.4v.4h-.4zM863.3 512.3h.4v.4h-.4zM863.3 559.3h.4v.4h-.4zM863.3 515.3h.4v.4h-.4zM864.3 508.3h.4v.4h-.4zM864.3 550.3h.4v.4h-.4zM864.3 529.3h.4v.4h-.4zM865.3 499.3h.4v.4h-.4zM865.3 525.3h.4v.4h-.4zM865.3 546.3h.4v.4h-.4zM866.3 550.3h.4v.4h-.4zM866.3 564.3h.4v.4h-.4zM867.3 594.3h.4v.4h-.4zM867.3 568.3h.4v.4h-.4zM867.3 563.3h.4v.4h-.4zM868.3 590.3h.4v.4h-.4zM868.3 582.3h.4v.4h-.4zM868.3 557.3h.4v.4h-.4zM869.3 590.3h.4v.4h-.4zM869.3 599.3h.4v.4h-.4zM869.3 575.3h.4v.4h-.4zM870.3 585.3h.4v.4h-.4zM870.3 611.3h.4v.4h-.4zM870.3 592.3h.4v.4h-.4zM871.3 581.3h.4v.4h-.4zM871.3 613.3h.4v.4h-.4zM871.3 607.3h.4v.4h-.4zM872.3 581.3h.4v.4h-.4zM872.3 611.3h.4v.4h-.4zM872.3 620.3h.4v.4h-.4zM873.3 593.3h.4v.4h-.4zM873.3 609.3h.4v.4h-.4zM873.3 632.3h.4v.4h-.4zM874.3 609.3h.4v.4h-.4zM874.3 604.3h.4v.4h-.4zM874.3 635.3h.4v.4h-.4zM875.3 622.3h.4v.4h-.4zM875.3 600.3h.4v.4h-.4zM876.3 633.3h.4v.4h-.4zM876.3 636.3h.4v.4h-.4zM876.3 612.3h.4v.4h-.4zM877.3 626.3h.4v.4h-.4zM877.3 654.3h.4v.4h-.4zM877.3 628.3h.4v.4h-.4zM878.3 623.3h.4v.4h-.4zM878.3 651.3h.4v.4h-.4zM878.3 638.3h.4v.4h-.4zM879.3 617.3h.4v.4h-.4zM879.3 646.3h.4v.4h-.4zM879.3 652.3h.4v.4h-.4zM880.3 630.3h.4v.4h-.4zM880.3 641.3h.4v.4h-.4zM880.3 665.3h.4v.4h-.4zM881.3 639.3h.4v.4h-.4zM881.3 667.3h.4v.4h-.4zM882.3 650.3h.4v.4h-.4zM882.3 637.3h.4v.4h-.4zM882.3 664.3h.4v.4h-.4zM883.3 660.3h.4v.4h-.4zM883.3 639.3h.4v.4h-.4zM884.3 662.3h.4v.4h-.4zM884.3 673.3h.4v.4h-.4zM884.3 649.3h.4v.4h-.4zM885.3 657.3h.4v.4h-.4zM885.3 683.3h.4v.4h-.4zM885.3 660.3h.4v.4h-.4zM886.3 652.3h.4v.4h-.4zM886.3 679.3h.4v.4h-.4zM886.3 671.3h.4v.4h-.4zM887.3 650.3h.4v.4h-.4zM887.3 671.3h.4v.4h-.4zM887.3 680.3h.4v.4h-.4zM888.3 658.3h.4v.4h-.4zM888.3 671.3h.4v.4h-.4zM888.3 690.3h.4v.4h-.4zM889.3 669.3h.4v.4h-.4zM889.3 665.3h.4v.4h-.4zM889.3 687.3h.4v.4h-.4zM890.3 681.3h.4v.4h-.4zM890.3 662.3h.4v.4h-.4zM890.3 682.3h.4v.4h-.4zM891.3 688.3h.4v.4h-.4zM891.3 667.3h.4v.4h-.4zM891.3 682.3h.4v.4h-.4zM892.3 698.3h.4v.4h-.4zM892.3 678.3h.4v.4h-.4zM893.3 678.3h.4v.4h-.4zM893.3 699.3h.4v.4h-.4zM893.3 689.3h.4v.4h-.4zM894.3 677.3h.4v.4h-.4zM894.3 693.3h.4v.4h-.4zM894.3 698.3h.4v.4h-.4zM895.3 680.3h.4v.4h-.4zM895.3 692.3h.4v.4h-.4zM895.3 706.3h.4v.4h-.4zM896.3 693.3h.4v.4h-.4zM896.3 688.3h.4v.4h-.4zM896.3 703.3h.4v.4h-.4zM897.3 697.3h.4v.4h-.4zM897.3 684.3h.4v.4h-.4zM897.3 700.3h.4v.4h-.4zM898.3 706.3h.4v.4h-.4zM898.3 690.3h.4v.4h-.4zM898.3 699.3h.4v.4h-.4zM899.3 709.3h.4v.4h-.4zM899.3 696.3h.4v.4h-.4zM899.3 699.3h.4v.4h-.4zM900.3 711.3h.4v.4h-.4zM900.3 703.3h.4v.4h-.4zM901.3 694.3h.4v.4h-.4zM901.3 712.3h.4v.4h-.4zM901.3 708.3h.4v.4h-.4zM902.3 694.3h.4v.4h-.4zM902.3 709.3h.4v.4h-.4zM902.3 711.3h.4v.4h-.4zM903.3 700.3h.4v.4h-.4zM903.3 705.3h.4v.4h-.4zM903.3 718.3h.4v.4h-.4zM904.3 704.3h.4v.4h-.4zM904.3 705.3h.4v.4h-.4zM904.3 720.3h.4v.4h-.4zM905.3 708.3h.4v.4h-.4zM905.3 704.3h.4v.4h-.4zM905.3 720.3h.4v.4h-.4zM906.3 714.3h.4v.4h-.4zM906.3 702.3h.4v.4h-.4zM906.3 717.3h.4v.4h-.4zM907.3 717.3h.4v.4h-.4zM907.3 707.3h.4v.4h-.4zM907.3 713.3h.4v.4h-.4zM908.3 722.3h.4v.4h-.4zM908.3 708.3h.4v.4h-.4zM908.3 710.3h.4v.4h-.4zM909.3 725.3h.4v.4h-.4zM909.3 711.3h.4v.4h-.4zM910.3 710.3h.4v.4h-.4zM910.3 724.3h.4v.4h-.4zM910.3 717.3h.4v.4h-.4zM911.3 708.3h.4v.4h-.4zM911.3 721.3h.4v.4h-.4zM911.3 720.3h.4v.4h-.4zM912.3 708.3h.4v.4h-.4zM912.3 717.3h.4v.4h-.4zM912.3 726.3h.4v.4h-.4zM913.3 714.3h.4v.4h-.4zM913.3 712.3h.4v.4h-.4zM913.3 724.3h.4v.4h-.4zM914.3 722.3h.4v.4h-.4zM914.3 709.3h.4v.4h-.4zM915.3 726.3h.4v.4h-.4zM915.3 711.3h.4v.4h-.4zM915.3 718.3h.4v.4h-.4zM916.3 728.3h.4v.4h-.4zM916.3 716.3h.4v.4h-.4zM917.3 729.3h.4v.4h-.4zM917.3 718.3h.4v.4h-.4zM918.3 712.3h.4v.4h-.4zM918.3 726.3h.4v.4h-.4zM918.3 724.3h.4v.4h-.4zM919.3 710.3h.4v.4h-.4zM919.3 723.3h.4v.4h-.4zM919.3 728.3h.4v.4h-.4zM920.3 716.3h.4v.4h-.4zM920.3 718.3h.4v.4h-.4zM920.3 731.3h.4v.4h-.4zM921.3 719.3h.4v.4h-.4zM921.3 714.3h.4v.4h-.4zM921.3 726.3h.4v.4h-.4zM922.3 722.3h.4v.4h-.4zM922.3 712.3h.4v.4h-.4zM922.3 725.3h.4v.4h-.4zM923.3 728.3h.4v.4h-.4zM923.3 714.3h.4v.4h-.4zM923.3 720.3h.4v.4h-.4zM924.3 732.3h.4v.4h-.4zM924.3 720.3h.4v.4h-.4zM924.3 717.3h.4v.4h-.4zM925.3 730.3h.4v.4h-.4zM925.3 723.3h.4v.4h-.4zM925.3 713.3h.4v.4h-.4zM926.3 724.3h.4v.4h-.4zM926.3 729.3h.4v.4h-.4zM927.3 717.3h.4v.4h-.4zM927.3 720.3h.4v.4h-.4zM927.3 733.3h.4v.4h-.4zM928.3 719.3h.4v.4h-.4zM928.3 718.3h.4v.4h-.4zM928.3 729.3h.4v.4h-.4zM929.3 727.3h.4v.4h-.4zM929.3 714.3h.4v.4h-.4zM929.3 725.3h.4v.4h-.4zM930.3 731.3h.4v.4h-.4zM930.3 718.3h.4v.4h-.4zM930.3 721.3h.4v.4h-.4zM931.3 736.3h.4v.4h-.4zM931.3 722.3h.4v.4h-.4zM931.3 720.3h.4v.4h-.4zM932.3 730.3h.4v.4h-.4zM932.3 726.3h.4v.4h-.4zM932.3 718.3h.4v.4h-.4zM933.3 728.3h.4v.4h-.4zM933.3 731.3h.4v.4h-.4zM933.3 719.3h.4v.4h-.4zM934.3 726.3h.4v.4h-.4zM934.3 734.3h.4v.4h-.4zM935.3 723.3h.4v.4h-.4zM935.3 722.3h.4v.4h-.4zM935.3 731.3h.4v.4h-.4zM936.3 728.3h.4v.4h-.4zM936.3 719.3h.4v.4h-.4zM936.3 732.3h.4v.4h-.4zM937.3 731.3h.4v.4h-.4zM937.3 719.3h.4v.4h-.4zM937.3 727.3h.4v.4h-.4zM938.3 733.3h.4v.4h-.4zM938.3 720.3h.4v.4h-.4zM938.3 724.3h.4v.4h-.4zM939.3 736.3h.4v.4h-.4zM939.3 726.3h.4v.4h-.4zM939.3 721.3h.4v.4h-.4zM940.3 732.3h.4v.4h-.4zM940.3 728.3h.4v.4h-.4zM940.3 718.3h.4v.4h-.4zM941.3 728.3h.4v.4h-.4zM941.3 733.3h.4v.4h-.4zM941.3 722.3h.4v.4h-.4zM942.3 726.3h.4v.4h-.4zM942.3 737.3h.4v.4h-.4zM942.3 727.3h.4v.4h-.4zM943.3 720.3h.4v.4h-.4zM943.3 733.3h.4v.4h-.4zM944.3 731.3h.4v.4h-.4zM944.3 719.3h.4v.4h-.4zM944.3 732.3h.4v.4h-.4zM945.3 734.3h.4v.4h-.4zM945.3 722.3h.4v.4h-.4zM945.3 728.3h.4v.4h-.4zM946.3 737.3h.4v.4h-.4zM946.3 726.3h.4v.4h-.4zM946.3 723.3h.4v.4h-.4zM947.3 735.3h.4v.4h-.4zM947.3 731.3h.4v.4h-.4zM947.3 720.3h.4v.4h-.4zM948.3 732.3h.4v.4h-.4zM948.3 733.3h.4v.4h-.4zM948.3 721.3h.4v.4h-.4zM949.3 729.3h.4v.4h-.4zM949.3 738.3h.4v.4h-.4zM949.3 727.3h.4v.4h-.4zM950.3 722.3h.4v.4h-.4zM950.3 732.3h.4v.4h-.4zM951.3 719.3h.4v.4h-.4zM951.3 729.3h.4v.4h-.4zM952.3 735.3h.4v.4h-.4zM952.3 722.3h.4v.4h-.4zM952.3 726.3h.4v.4h-.4zM953.3 734.3h.4v.4h-.4zM953.3 727.3h.4v.4h-.4zM953.3 718.3h.4v.4h-.4zM954.3 733.3h.4v.4h-.4zM954.3 730.3h.4v.4h-.4zM954.3 717.3h.4v.4h-.4zM955.3 728.3h.4v.4h-.4zM955.3 735.3h.4v.4h-.4zM955.3 722.3h.4v.4h-.4zM956.3 727.3h.4v.4h-.4zM956.3 734.3h.4v.4h-.4zM956.3 723.3h.4v.4h-.4zM957.3 723.3h.4v.4h-.4zM957.3 733.3h.4v.4h-.4zM957.3 727.3h.4v.4h-.4zM958.3 717.3h.4v.4h-.4zM958.3 730.3h.4v.4h-.4zM958.3 731.3h.4v.4h-.4zM959.3 718.3h.4v.4h-.4zM959.3 726.3h.4v.4h-.4zM959.3 736.3h.4v.4h-.4zM960.3 722.3h.4v.4h-.4zM960.3 723.3h.4v.4h-.4zM961.3 736.3h.4v.4h-.4zM961.3 722.3h.4v.4h-.4zM961.3 718.3h.4v.4h-.4zM962.3 732.3h.4v.4h-.4zM962.3 728.3h.4v.4h-.4zM962.3 718.3h.4v.4h-.4zM963.3 730.3h.4v.4h-.4zM963.3 729.3h.4v.4h-.4zM963.3 715.3h.4v.4h-.4zM964.3 727.3h.4v.4h-.4zM964.3 734.3h.4v.4h-.4zM964.3 721.3h.4v.4h-.4zM965.3 721.3h.4v.4h-.4zM965.3 734.3h.4v.4h-.4zM965.3 726.3h.4v.4h-.4zM966.3 721.3h.4v.4h-.4zM966.3 731.3h.4v.4h-.4zM966.3 728.3h.4v.4h-.4zM967.3 716.3h.4v.4h-.4zM967.3 723.3h.4v.4h-.4zM967.3 734.3h.4v.4h-.4zM968.3 721.3h.4v.4h-.4zM968.3 718.3h.4v.4h-.4zM969.3 732.3h.4v.4h-.4zM969.3 725.3h.4v.4h-.4zM969.3 715.3h.4v.4h-.4zM970.3 727.3h.4v.4h-.4zM970.3 714.3h.4v.4h-.4zM971.3 725.3h.4v.4h-.4zM971.3 733.3h.4v.4h-.4zM971.3 719.3h.4v.4h-.4zM972.3 720.3h.4v.4h-.4zM972.3 731.3h.4v.4h-.4zM972.3 725.3h.4v.4h-.4zM973.3 716.3h.4v.4h-.4zM973.3 729.3h.4v.4h-.4zM973.3 730.3h.4v.4h-.4zM974.3 717.3h.4v.4h-.4zM974.3 722.3h.4v.4h-.4zM974.3 732.3h.4v.4h-.4zM975.3 719.3h.4v.4h-.4zM975.3 721.3h.4v.4h-.4zM975.3 731.3h.4v.4h-.4zM976.3 720.3h.4v.4h-.4zM976.3 718.3h.4v.4h-.4zM976.3 729.3h.4v.4h-.4zM977.3 723.3h.4v.4h-.4zM977.3 713.3h.4v.4h-.4zM978.3 725.3h.4v.4h-.4zM978.3 728.3h.4v.4h-.4zM978.3 715.3h.4v.4h-.4zM979.3 723.3h.4v.4h-.4zM979.3 730.3h.4v.4h-.4zM979.3 719.3h.4v.4h-.4zM980.3 719.3h.4v.4h-.4zM980.3 730.3h.4v.4h-.4zM980.3 724.3h.4v.4h-.4zM981.3 713.3h.4v.4h-.4zM981.3 726.3h.4v.4h-.4zM981.3 727.3h.4v.4h-.4zM982.3 713.3h.4v.4h-.4zM982.3 720.3h.4v.4h-.4zM982.3 730.3h.4v.4h-.4zM983.3 716.3h.4v.4h-.4zM983.3 730.3h.4v.4h-.4zM984.3 721.3h.4v.4h-.4zM984.3 714.3h.4v.4h-.4zM984.3 727.3h.4v.4h-.4zM985.3 723.3h.4v.4h-.4zM985.3 710.3h.4v.4h-.4zM986.3 722.3h.4v.4h-.4zM986.3 729.3h.4v.4h-.4zM986.3 714.3h.4v.4h-.4zM987.3 717.3h.4v.4h-.4zM987.3 729.3h.4v.4h-.4zM987.3 716.3h.4v.4h-.4zM988.3 716.3h.4v.4h-.4zM988.3 728.3h.4v.4h-.4zM988.3 719.3h.4v.4h-.4zM989.3 710.3h.4v.4h-.4zM989.3 724.3h.4v.4h-.4zM990.3 710.3h.4v.4h-.4zM990.3 719.3h.4v.4h-.4zM990.3 726.3h.4v.4h-.4zM991.3 714.3h.4v.4h-.4zM991.3 717.3h.4v.4h-.4zM991.3 730.3h.4v.4h-.4zM992.3 717.3h.4v.4h-.4zM992.3 711.3h.4v.4h-.4zM992.3 725.3h.4v.4h-.4zM993.3 721.3h.4v.4h-.4zM993.3 709.3h.4v.4h-.4zM993.3 722.3h.4v.4h-.4zM994.3 727.3h.4v.4h-.4zM994.3 714.3h.4v.4h-.4zM995.3 716.3h.4v.4h-.4zM995.3 729.3h.4v.4h-.4zM995.3 717.3h.4v.4h-.4zM996.3 710.3h.4v.4h-.4zM996.3 722.3h.4v.4h-.4zM997.3 708.3h.4v.4h-.4zM997.3 718.3h.4v.4h-.4zM997.3 726.3h.4v.4h-.4zM998.3 714.3h.4v.4h-.4zM998.3 713.3h.4v.4h-.4zM998.3 726.3h.4v.4h-.4zM999.3 720.3h.4v.4h-.4zM999.3 710.3h.4v.4h-.4zM999.3 722.3h.4v.4h-.4zM1000.3 721.3h.4v.4h-.4zM1000.3 709.3h.4v.4h-.4zM1000.3 720.3h.4v.4h-.4zM1001.3 724.3h.4v.4h-.4zM1001.3 711.3h.4v.4h-.4zM1001.3 714.3h.4v.4h-.4zM1002.3 727.3h.4v.4h-.4zM1002.3 711.3h.4v.4h-.4zM1003.3 712.3h.4v.4h-.4zM1003.3 724.3h.4v.4h-.4zM1003.3 717.3h.4v.4h-.4zM1004.3 706.3h.4v.4h-.4zM1004.3 721.3h.4v.4h-.4zM1004.3 720.3h.4v.4h-.4zM1005.3 707.3h.4v.4h-.4zM1005.3 716.3h.4v.4h-.4zM1005.3 724.3h.4v.4h-.4zM1006.3 712.3h.4v.4h-.4zM1006.3 711.3h.4v.4h-.4zM1006.3 726.3h.4v.4h-.4zM1007.3 716.3h.4v.4h-.4zM1007.3 710.3h.4v.4h-.4zM1007.3 721.3h.4v.4h-.4zM1008.3 716.3h.4v.4h-.4zM1008.3 704.3h.4v.4h-.4zM1008.3 718.3h.4v.4h-.4zM1009.3 720.3h.4v.4h-.4zM1009.3 705.3h.4v.4h-.4zM1009.3 714.3h.4v.4h-.4zM1010.3 724.3h.4v.4h-.4zM1010.3 711.3h.4v.4h-.4zM1010.3 710.3h.4v.4h-.4zM1011.3 724.3h.4v.4h-.4zM1011.3 713.3h.4v.4h-.4zM1012.3 707.3h.4v.4h-.4zM1012.3 721.3h.4v.4h-.4zM1012.3 717.3h.4v.4h-.4zM1013.3 705.3h.4v.4h-.4zM1013.3 715.3h.4v.4h-.4zM1013.3 720.3h.4v.4h-.4zM1014.3 707.3h.4v.4h-.4zM1014.3 711.3h.4v.4h-.4zM1014.3 724.3h.4v.4h-.4zM1015.3 713.3h.4v.4h-.4zM1015.3 705.3h.4v.4h-.4zM1015.3 717.3h.4v.4h-.4zM1016.3 718.3h.4v.4h-.4zM1016.3 703.3h.4v.4h-.4zM1016.3 714.3h.4v.4h-.4zM1017.3 720.3h.4v.4h-.4zM1017.3 703.3h.4v.4h-.4zM1017.3 709.3h.4v.4h-.4zM1018.3 724.3h.4v.4h-.4zM1018.3 712.3h.4v.4h-.4zM1018.3 705.3h.4v.4h-.4zM1019.3 719.3h.4v.4h-.4zM1019.3 716.3h.4v.4h-.4zM1020.3 702.3h.4v.4h-.4zM1020.3 714.3h.4v.4h-.4zM1020.3 721.3h.4v.4h-.4zM1021.3 705.3h.4v.4h-.4zM1021.3 710.3h.4v.4h-.4zM1021.3 721.3h.4v.4h-.4zM1022.3 711.3h.4v.4h-.4zM1022.3 704.3h.4v.4h-.4zM1022.3 717.3h.4v.4h-.4zM1023.3 715.3h.4v.4h-.4zM1023.3 700.3h.4v.4h-.4zM1023.3 713.3h.4v.4h-.4zM1024.3 717.3h.4v.4h-.4zM1024.3 704.3h.4v.4h-.4zM1024.3 710.3h.4v.4h-.4zM1025.3 721.3h.4v.4h-.4zM1025.3 708.3h.4v.4h-.4zM1025.3 706.3h.4v.4h-.4zM1026.3 718.3h.4v.4h-.4zM1026.3 713.3h.4v.4h-.4zM1026.3 700.3h.4v.4h-.4zM1027.3 716.3h.4v.4h-.4zM1027.3 714.3h.4v.4h-.4zM1027.3 699.3h.4v.4h-.4zM1028.3 713.3h.4v.4h-.4zM1028.3 719.3h.4v.4h-.4zM1029.3 706.3h.4v.4h-.4zM1029.3 721.3h.4v.4h-.4zM1030.3 707.3h.4v.4h-.4zM1030.3 702.3h.4v.4h-.4zM1030.3 715.3h.4v.4h-.4zM1031.3 710.3h.4v.4h-.4zM1031.3 698.3h.4v.4h-.4zM1031.3 711.3h.4v.4h-.4zM1032.3 713.3h.4v.4h-.4zM1032.3 702.3h.4v.4h-.4zM1032.3 705.3h.4v.4h-.4zM1033.3 720.3h.4v.4h-.4zM1033.3 707.3h.4v.4h-.4zM1033.3 700.3h.4v.4h-.4zM1034.3 715.3h.4v.4h-.4zM1034.3 714.3h.4v.4h-.4zM1034.3 698.3h.4v.4h-.4zM1035.3 711.3h.4v.4h-.4zM1035.3 716.3h.4v.4h-.4zM1035.3 704.3h.4v.4h-.4zM1036.3 705.3h.4v.4h-.4zM1036.3 718.3h.4v.4h-.4zM1037.3 710.3h.4v.4h-.4zM1037.3 698.3h.4v.4h-.4zM1037.3 714.3h.4v.4h-.4zM1038.3 712.3h.4v.4h-.4zM1038.3 697.3h.4v.4h-.4zM1038.3 708.3h.4v.4h-.4zM897.3 513.3h.4v.4h-.4z" fill="#1f77b4" stroke="#1f77b4" stroke-width="2.6" stroke-linejoin="round"/>
<rect x="150" y="486" width="930" height="315" fill="none" stroke="#000" stroke-width="1.667" stroke-linejoin="miter"/>
<g stroke="#000" stroke-width="1.667">
<line x1="165" y1="801" x2="165" y2="808"/>
<line x1="290" y1="801" x2="290" y2="808"/>
<line x1="415" y1="801" x2="415" y2="808"/>
<line x1="540" y1="801" x2="540" y2="808"/>
<line x1="665" y1="801" x2="665" y2="808"/>
<line x1="790" y1="801" x2="790" y2="808"/>
<line x1="915" y1="801" x2="915" y2="808"/>
<line x1="1040" y1="801" x2="1040" y2="808"/>
</g>
<text x="143.00 155.25 161.88 175.25" y="832" fill="#000">7.65</text>
<text x="268.06 280.31 286.94 300.19" y="832" fill="#000">7.70</text>
<text x="393.06 405.31 411.94 425.19" y="832" fill="#000">7.75</text>
<text x="517.88 530.12 536.75 549.88" y="832" fill="#000">7.80</text>
<text x="642.88 655.12 661.75 674.88" y="832" fill="#000">7.85</text>
<text x="767.00 779.25 785.88 799.25" y="832" fill="#000">7.90</text>
<text x="893.00 905.25 911.88 925.25" y="832" fill="#000">7.95</text>
<text x="1017.00 1029.12 1035.75 1049.00" y="832" fill="#000">8.00</text>
<g stroke="#000" stroke-width="1.667">
<line x1="143" y1="801" x2="150" y2="801"/>
<line x1="143" y1="752" x2="150" y2="752"/>
<line x1="143" y1="703" x2="150" y2="703"/>
<line x1="143" y1="653" x2="150" y2="653"/>
<line x1="143" y1="604" x2="150" y2="604"/>
<line x1="143" y1="555" x2="150" y2="555"/>
<line x1="143" y1="506" x2="150" y2="506"/>
</g>
<text x="88.92 101.17 107.79 121.04" y="809" fill="#000">0.00</text>
<text x="88.92 101.17 107.79 121.04" y="760" fill="#000">0.25</text>
<text x="88.92 101.17 107.79 121.04" y="711" fill="#000">0.50</text>
<text x="88.92 101.17 107.79 121.04" y="661" fill="#000">0.75</text>
<text x="89.10 101.35 107.98 121.23" y="612" fill="#000">1.00</text>
<text x="89.10 101.35 107.98 121.23" y="563" fill="#000">1.25</text>
<text x="89.10 101.35 107.98 121.23" y="514" fill="#000">1.50</text>
<text x="521.88 538.00 555.88 568.75 575.38 588.25 594.12 614.38 627.25 633.88 642.00 655.12 667.88 681.00 689.62 700.50" y="860" fill="#000">GMT Time (hours)</text>
<text transform="translate(75.50 644.75) rotate(-90)" x="-80.25 -65.75 -52.62 -44.00 -35.38 -22.50 -9.38 -1.25 5.38 13.50 27.75 48.00 61.25 72.12" y="0" fill="#000">Current (Amps)</text>
<text x="917.88 928.38 941.12 953.88 959.75 972.62 981.25 995.75 1008.88 1017.50 1026.12 1039.00 1052.12" y="521" fill="#1f77b4">coolerCurrent</text>
</svg>
</body></html>
